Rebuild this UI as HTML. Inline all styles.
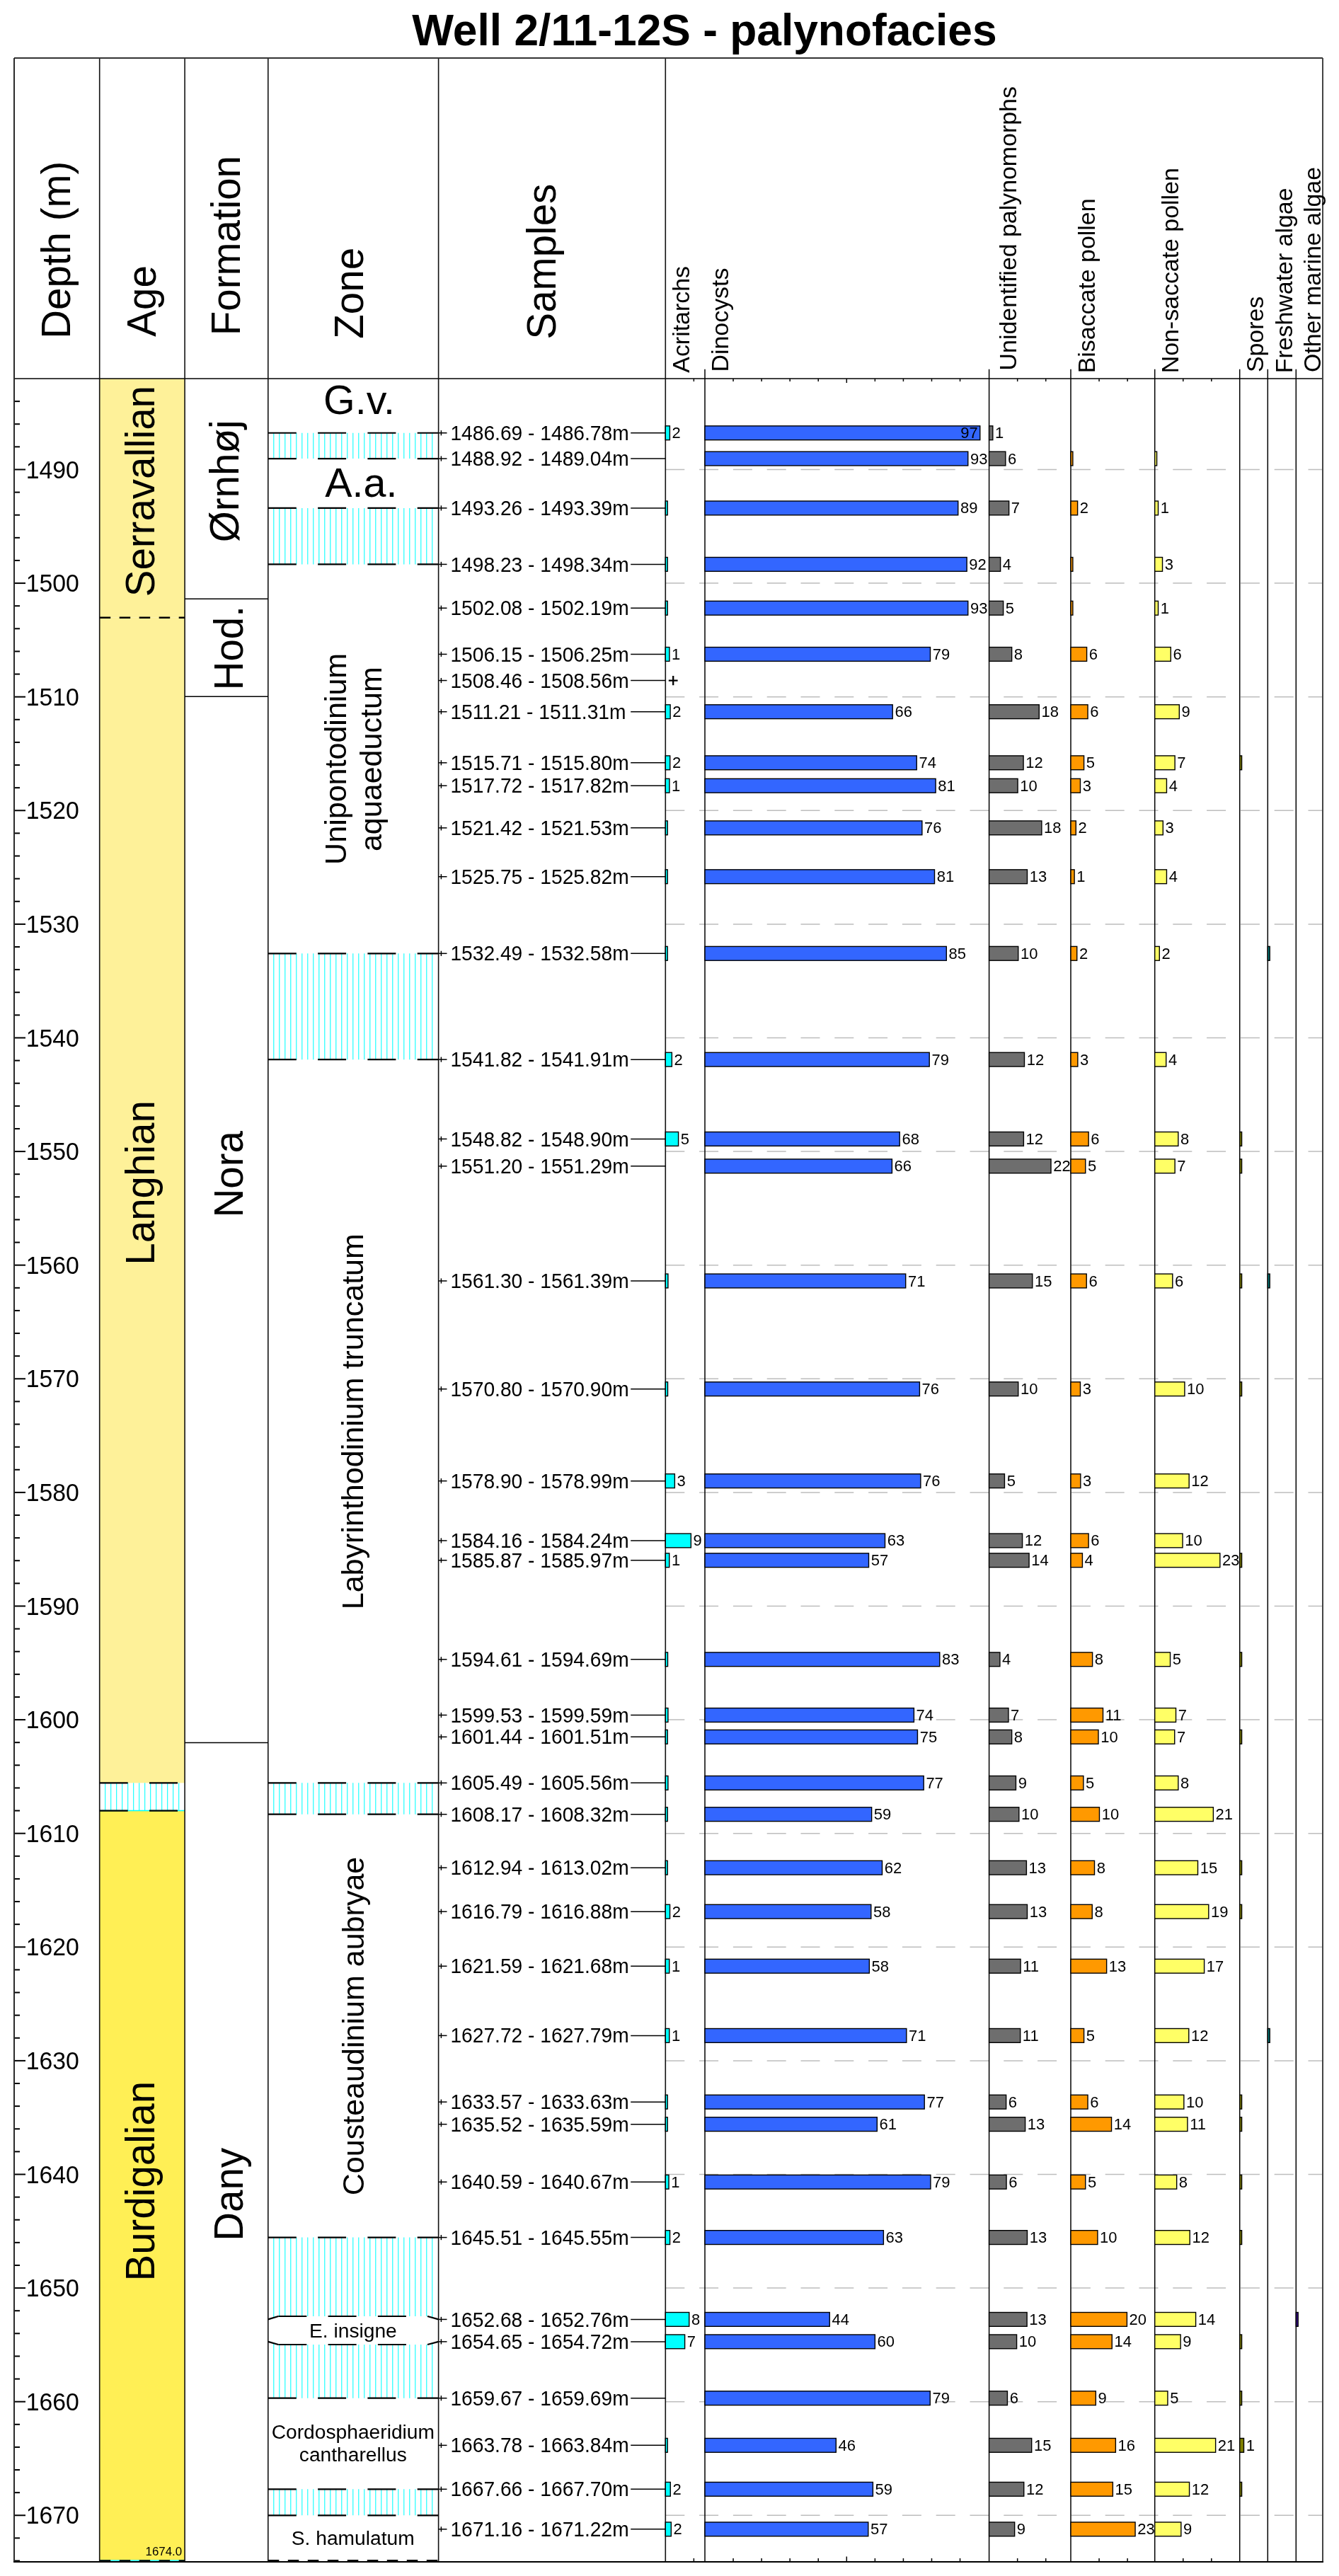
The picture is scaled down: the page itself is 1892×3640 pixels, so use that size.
<!DOCTYPE html>
<html><head><meta charset="utf-8"><title>Well 2/11-12S - palynofacies</title>
<style>html,body{margin:0;padding:0;background:#fff;}svg{display:block;will-change:transform;}text{font-family:"Liberation Sans",sans-serif;}</style>
</head><body>
<svg width="1892" height="3640" viewBox="0 0 1892 3640">
<rect x="0" y="0" width="1892" height="3640" fill="#fff"/>
<rect x="140.70" y="535.00" width="120.40" height="337.74" fill="#FEF199" stroke="none" stroke-width="0"/>
<rect x="140.70" y="872.74" width="120.40" height="1646.63" fill="#FEF199" stroke="none" stroke-width="0"/>
<rect x="140.70" y="2558.56" width="120.40" height="1061.44" fill="#FFEF55" stroke="none" stroke-width="0"/>
<path d="M148.70 2519.37V2558.56M156.70 2519.37V2558.56M164.70 2519.37V2558.56M172.70 2519.37V2558.56M180.70 2519.37V2558.56M188.70 2519.37V2558.56M196.70 2519.37V2558.56M204.70 2519.37V2558.56M212.70 2519.37V2558.56M220.70 2519.37V2558.56M228.70 2519.37V2558.56M236.70 2519.37V2558.56M244.70 2519.37V2558.56M252.70 2519.37V2558.56" stroke="#00FFFF" stroke-width="1.05" fill="none"/>
<line x1="140.70" y1="2558.56" x2="261.10" y2="2558.56" stroke="#00FFFF" stroke-width="1.6" />
<line x1="140.70" y1="2519.37" x2="261.10" y2="2519.37" stroke="#000" stroke-width="2.2" stroke-dasharray="40 30.3" stroke-dashoffset="0"/>
<line x1="140.70" y1="2558.56" x2="261.10" y2="2558.56" stroke="#000" stroke-width="2.2" stroke-dasharray="40 30.3" stroke-dashoffset="0"/>
<path d="M386.80 611.77V648.06M394.80 611.77V648.06M402.80 611.77V648.06M410.80 611.77V648.06M418.80 611.77V648.06M426.80 611.77V648.06M434.80 611.77V648.06M442.80 611.77V648.06M450.80 611.77V648.06M458.80 611.77V648.06M466.80 611.77V648.06M474.80 611.77V648.06M482.80 611.77V648.06M490.80 611.77V648.06M498.80 611.77V648.06M506.80 611.77V648.06M514.80 611.77V648.06M522.80 611.77V648.06M530.80 611.77V648.06M538.80 611.77V648.06M546.80 611.77V648.06M554.80 611.77V648.06M562.80 611.77V648.06M570.80 611.77V648.06M578.80 611.77V648.06M586.80 611.77V648.06M594.80 611.77V648.06M602.80 611.77V648.06M610.80 611.77V648.06" stroke="#00FFFF" stroke-width="1.05" fill="none"/>
<line x1="378.80" y1="611.77" x2="619.60" y2="611.77" stroke="#000" stroke-width="2.2" stroke-dasharray="40 30.3" stroke-dashoffset="0"/>
<line x1="378.80" y1="648.06" x2="619.60" y2="648.06" stroke="#000" stroke-width="2.2" stroke-dasharray="40 30.3" stroke-dashoffset="0"/>
<path d="M386.80 717.92V797.42M394.80 717.92V797.42M402.80 717.92V797.42M410.80 717.92V797.42M418.80 717.92V797.42M426.80 717.92V797.42M434.80 717.92V797.42M442.80 717.92V797.42M450.80 717.92V797.42M458.80 717.92V797.42M466.80 717.92V797.42M474.80 717.92V797.42M482.80 717.92V797.42M490.80 717.92V797.42M498.80 717.92V797.42M506.80 717.92V797.42M514.80 717.92V797.42M522.80 717.92V797.42M530.80 717.92V797.42M538.80 717.92V797.42M546.80 717.92V797.42M554.80 717.92V797.42M562.80 717.92V797.42M570.80 717.92V797.42M578.80 717.92V797.42M586.80 717.92V797.42M594.80 717.92V797.42M602.80 717.92V797.42M610.80 717.92V797.42" stroke="#00FFFF" stroke-width="1.05" fill="none"/>
<line x1="378.80" y1="717.92" x2="619.60" y2="717.92" stroke="#000" stroke-width="2.2" stroke-dasharray="40 30.3" stroke-dashoffset="0"/>
<line x1="378.80" y1="797.42" x2="619.60" y2="797.42" stroke="#000" stroke-width="2.2" stroke-dasharray="40 30.3" stroke-dashoffset="0"/>
<path d="M386.80 1347.31V1497.15M394.80 1347.31V1497.15M402.80 1347.31V1497.15M410.80 1347.31V1497.15M418.80 1347.31V1497.15M426.80 1347.31V1497.15M434.80 1347.31V1497.15M442.80 1347.31V1497.15M450.80 1347.31V1497.15M458.80 1347.31V1497.15M466.80 1347.31V1497.15M474.80 1347.31V1497.15M482.80 1347.31V1497.15M490.80 1347.31V1497.15M498.80 1347.31V1497.15M506.80 1347.31V1497.15M514.80 1347.31V1497.15M522.80 1347.31V1497.15M530.80 1347.31V1497.15M538.80 1347.31V1497.15M546.80 1347.31V1497.15M554.80 1347.31V1497.15M562.80 1347.31V1497.15M570.80 1347.31V1497.15M578.80 1347.31V1497.15M586.80 1347.31V1497.15M594.80 1347.31V1497.15M602.80 1347.31V1497.15M610.80 1347.31V1497.15" stroke="#00FFFF" stroke-width="1.05" fill="none"/>
<line x1="378.80" y1="1347.31" x2="619.60" y2="1347.31" stroke="#000" stroke-width="2.2" stroke-dasharray="40 30.3" stroke-dashoffset="0"/>
<line x1="378.80" y1="1497.15" x2="619.60" y2="1497.15" stroke="#000" stroke-width="2.2" stroke-dasharray="40 30.3" stroke-dashoffset="0"/>
<path d="M386.80 2519.37V2563.70M394.80 2519.37V2563.70M402.80 2519.37V2563.70M410.80 2519.37V2563.70M418.80 2519.37V2563.70M426.80 2519.37V2563.70M434.80 2519.37V2563.70M442.80 2519.37V2563.70M450.80 2519.37V2563.70M458.80 2519.37V2563.70M466.80 2519.37V2563.70M474.80 2519.37V2563.70M482.80 2519.37V2563.70M490.80 2519.37V2563.70M498.80 2519.37V2563.70M506.80 2519.37V2563.70M514.80 2519.37V2563.70M522.80 2519.37V2563.70M530.80 2519.37V2563.70M538.80 2519.37V2563.70M546.80 2519.37V2563.70M554.80 2519.37V2563.70M562.80 2519.37V2563.70M570.80 2519.37V2563.70M578.80 2519.37V2563.70M586.80 2519.37V2563.70M594.80 2519.37V2563.70M602.80 2519.37V2563.70M610.80 2519.37V2563.70" stroke="#00FFFF" stroke-width="1.05" fill="none"/>
<line x1="378.80" y1="2519.37" x2="619.60" y2="2519.37" stroke="#000" stroke-width="2.2" stroke-dasharray="40 30.3" stroke-dashoffset="0"/>
<line x1="378.80" y1="2563.70" x2="619.60" y2="2563.70" stroke="#000" stroke-width="2.2" stroke-dasharray="40 30.3" stroke-dashoffset="0"/>
<path d="M386.80 3161.61V3277.41M394.80 3161.61V3277.41M402.80 3161.61V3277.41M410.80 3161.61V3277.41M418.80 3161.61V3277.41M426.80 3161.61V3277.41M434.80 3161.61V3277.41M442.80 3161.61V3277.41M450.80 3161.61V3277.41M458.80 3161.61V3277.41M466.80 3161.61V3277.41M474.80 3161.61V3277.41M482.80 3161.61V3277.41M490.80 3161.61V3277.41M498.80 3161.61V3277.41M506.80 3161.61V3277.41M514.80 3161.61V3277.41M522.80 3161.61V3277.41M530.80 3161.61V3277.41M538.80 3161.61V3277.41M546.80 3161.61V3277.41M554.80 3161.61V3277.41M562.80 3161.61V3277.41M570.80 3161.61V3277.41M578.80 3161.61V3277.41M586.80 3161.61V3277.41M594.80 3161.61V3277.41M602.80 3161.61V3277.41M610.80 3161.61V3277.41" stroke="#00FFFF" stroke-width="1.05" fill="none"/>
<line x1="378.80" y1="3161.61" x2="619.60" y2="3161.61" stroke="#000" stroke-width="2.2" stroke-dasharray="40 30.3" stroke-dashoffset="0"/>
<line x1="378.80" y1="3277.41" x2="619.60" y2="3277.41" stroke="#000" stroke-width="2.2" stroke-dasharray="40 30.3" stroke-dashoffset="0"/>
<path d="M386.80 3308.88V3388.70M394.80 3308.88V3388.70M402.80 3308.88V3388.70M410.80 3308.88V3388.70M418.80 3308.88V3388.70M426.80 3308.88V3388.70M434.80 3308.88V3388.70M442.80 3308.88V3388.70M450.80 3308.88V3388.70M458.80 3308.88V3388.70M466.80 3308.88V3388.70M474.80 3308.88V3388.70M482.80 3308.88V3388.70M490.80 3308.88V3388.70M498.80 3308.88V3388.70M506.80 3308.88V3388.70M514.80 3308.88V3388.70M522.80 3308.88V3388.70M530.80 3308.88V3388.70M538.80 3308.88V3388.70M546.80 3308.88V3388.70M554.80 3308.88V3388.70M562.80 3308.88V3388.70M570.80 3308.88V3388.70M578.80 3308.88V3388.70M586.80 3308.88V3388.70M594.80 3308.88V3388.70M602.80 3308.88V3388.70M610.80 3308.88V3388.70" stroke="#00FFFF" stroke-width="1.05" fill="none"/>
<line x1="378.80" y1="3308.88" x2="619.60" y2="3308.88" stroke="#000" stroke-width="2.2" stroke-dasharray="40 30.3" stroke-dashoffset="0"/>
<line x1="378.80" y1="3388.70" x2="619.60" y2="3388.70" stroke="#000" stroke-width="2.2" stroke-dasharray="40 30.3" stroke-dashoffset="0"/>
<path d="M386.80 3517.34V3554.28M394.80 3517.34V3554.28M402.80 3517.34V3554.28M410.80 3517.34V3554.28M418.80 3517.34V3554.28M426.80 3517.34V3554.28M434.80 3517.34V3554.28M442.80 3517.34V3554.28M450.80 3517.34V3554.28M458.80 3517.34V3554.28M466.80 3517.34V3554.28M474.80 3517.34V3554.28M482.80 3517.34V3554.28M490.80 3517.34V3554.28M498.80 3517.34V3554.28M506.80 3517.34V3554.28M514.80 3517.34V3554.28M522.80 3517.34V3554.28M530.80 3517.34V3554.28M538.80 3517.34V3554.28M546.80 3517.34V3554.28M554.80 3517.34V3554.28M562.80 3517.34V3554.28M570.80 3517.34V3554.28M578.80 3517.34V3554.28M586.80 3517.34V3554.28M594.80 3517.34V3554.28M602.80 3517.34V3554.28M610.80 3517.34V3554.28" stroke="#00FFFF" stroke-width="1.05" fill="none"/>
<line x1="378.80" y1="3517.34" x2="619.60" y2="3517.34" stroke="#000" stroke-width="2.2" stroke-dasharray="40 30.3" stroke-dashoffset="0"/>
<line x1="378.80" y1="3554.28" x2="619.60" y2="3554.28" stroke="#000" stroke-width="2.2" stroke-dasharray="40 30.3" stroke-dashoffset="0"/>
<path d="M378.8 3277.41 L393.3 3273 L604 3273 L619.6 3277.41 L619.6 3308.88 L604 3313 L393.3 3313 L378.8 3308.88Z" fill="#fff" stroke="none"/>
<line x1="378.80" y1="3277.41" x2="393.30" y2="3273.00" stroke="#000" stroke-width="2.2" />
<line x1="604.00" y1="3273.00" x2="619.60" y2="3277.41" stroke="#000" stroke-width="2.2" />
<line x1="378.80" y1="3308.88" x2="393.30" y2="3313.00" stroke="#000" stroke-width="2.2" />
<line x1="604.00" y1="3313.00" x2="619.60" y2="3308.88" stroke="#000" stroke-width="2.2" />
<line x1="393.30" y1="3273.00" x2="604.00" y2="3273.00" stroke="#000" stroke-width="2.2" stroke-dasharray="40 30.3" stroke-dashoffset="0"/>
<line x1="393.30" y1="3313.00" x2="604.00" y2="3313.00" stroke="#000" stroke-width="2.2" stroke-dasharray="40 30.3" stroke-dashoffset="0"/>
<line x1="378.80" y1="3618.30" x2="619.60" y2="3618.30" stroke="#000" stroke-width="2.5" stroke-dasharray="15.5 12.5" stroke-dashoffset="0"/>
<line x1="140.70" y1="3618.50" x2="261.10" y2="3618.50" stroke="#33FFFF" stroke-width="2.5" />
<line x1="140.70" y1="3618.50" x2="261.10" y2="3618.50" stroke="#000" stroke-width="2.5" stroke-dasharray="15.5 12.5" stroke-dashoffset="0"/>
<line x1="140.70" y1="872.74" x2="261.10" y2="872.74" stroke="#000" stroke-width="2.5" stroke-dasharray="15.5 12.5" stroke-dashoffset="0"/>
<line x1="940.3" y1="663.48" x2="1869" y2="663.48" stroke="#BDBDBD" stroke-width="1.5" stroke-dasharray="27 20.8"/>
<line x1="940.3" y1="824.08" x2="1869" y2="824.08" stroke="#BDBDBD" stroke-width="1.5" stroke-dasharray="27 20.8"/>
<line x1="940.3" y1="984.68" x2="1869" y2="984.68" stroke="#BDBDBD" stroke-width="1.5" stroke-dasharray="27 20.8"/>
<line x1="940.3" y1="1145.28" x2="1869" y2="1145.28" stroke="#BDBDBD" stroke-width="1.5" stroke-dasharray="27 20.8"/>
<line x1="940.3" y1="1305.88" x2="1869" y2="1305.88" stroke="#BDBDBD" stroke-width="1.5" stroke-dasharray="27 20.8"/>
<line x1="940.3" y1="1466.48" x2="1869" y2="1466.48" stroke="#BDBDBD" stroke-width="1.5" stroke-dasharray="27 20.8"/>
<line x1="940.3" y1="1627.08" x2="1869" y2="1627.08" stroke="#BDBDBD" stroke-width="1.5" stroke-dasharray="27 20.8"/>
<line x1="940.3" y1="1787.68" x2="1869" y2="1787.68" stroke="#BDBDBD" stroke-width="1.5" stroke-dasharray="27 20.8"/>
<line x1="940.3" y1="1948.28" x2="1869" y2="1948.28" stroke="#BDBDBD" stroke-width="1.5" stroke-dasharray="27 20.8"/>
<line x1="940.3" y1="2108.88" x2="1869" y2="2108.88" stroke="#BDBDBD" stroke-width="1.5" stroke-dasharray="27 20.8"/>
<line x1="940.3" y1="2269.48" x2="1869" y2="2269.48" stroke="#BDBDBD" stroke-width="1.5" stroke-dasharray="27 20.8"/>
<line x1="940.3" y1="2430.08" x2="1869" y2="2430.08" stroke="#BDBDBD" stroke-width="1.5" stroke-dasharray="27 20.8"/>
<line x1="940.3" y1="2590.68" x2="1869" y2="2590.68" stroke="#BDBDBD" stroke-width="1.5" stroke-dasharray="27 20.8"/>
<line x1="940.3" y1="2751.28" x2="1869" y2="2751.28" stroke="#BDBDBD" stroke-width="1.5" stroke-dasharray="27 20.8"/>
<line x1="940.3" y1="2911.88" x2="1869" y2="2911.88" stroke="#BDBDBD" stroke-width="1.5" stroke-dasharray="27 20.8"/>
<line x1="940.3" y1="3072.48" x2="1869" y2="3072.48" stroke="#BDBDBD" stroke-width="1.5" stroke-dasharray="27 20.8"/>
<line x1="940.3" y1="3233.08" x2="1869" y2="3233.08" stroke="#BDBDBD" stroke-width="1.5" stroke-dasharray="27 20.8"/>
<line x1="940.3" y1="3393.68" x2="1869" y2="3393.68" stroke="#BDBDBD" stroke-width="1.5" stroke-dasharray="27 20.8"/>
<line x1="940.3" y1="3554.28" x2="1869" y2="3554.28" stroke="#BDBDBD" stroke-width="1.5" stroke-dasharray="27 20.8"/>
<line x1="20.00" y1="535.00" x2="1869.00" y2="535.00" stroke="#000" stroke-width="1.5" />
<line x1="140.70" y1="82.00" x2="140.70" y2="3620.00" stroke="#111" stroke-width="1.6" />
<line x1="261.10" y1="82.00" x2="261.10" y2="3620.00" stroke="#111" stroke-width="1.6" />
<line x1="378.80" y1="82.00" x2="378.80" y2="3620.00" stroke="#111" stroke-width="1.6" />
<line x1="619.60" y1="82.00" x2="619.60" y2="3620.00" stroke="#111" stroke-width="1.6" />
<line x1="940.30" y1="82.00" x2="940.30" y2="3620.00" stroke="#111" stroke-width="1.6" />
<line x1="996.00" y1="521.70" x2="996.00" y2="3620.00" stroke="#000" stroke-width="1.5" />
<line x1="1397.60" y1="521.70" x2="1397.60" y2="3620.00" stroke="#000" stroke-width="1.5" />
<line x1="1513.00" y1="521.70" x2="1513.00" y2="3620.00" stroke="#000" stroke-width="1.5" />
<line x1="1631.70" y1="521.70" x2="1631.70" y2="3620.00" stroke="#000" stroke-width="1.5" />
<line x1="1751.70" y1="521.70" x2="1751.70" y2="3620.00" stroke="#000" stroke-width="1.5" />
<line x1="1791.30" y1="521.70" x2="1791.30" y2="3620.00" stroke="#000" stroke-width="1.5" />
<line x1="1831.30" y1="521.70" x2="1831.30" y2="3620.00" stroke="#000" stroke-width="1.5" />
<line x1="261.10" y1="846.20" x2="378.80" y2="846.20" stroke="#000" stroke-width="1.5" />
<line x1="261.10" y1="984.30" x2="378.80" y2="984.30" stroke="#000" stroke-width="1.5" />
<line x1="261.10" y1="2462.40" x2="378.80" y2="2462.40" stroke="#000" stroke-width="1.5" />
<line x1="980.36" y1="535.00" x2="980.36" y2="539.00" stroke="#000" stroke-width="1.5" />
<line x1="1036.06" y1="535.00" x2="1036.06" y2="539.00" stroke="#000" stroke-width="1.5" />
<line x1="1076.12" y1="535.00" x2="1076.12" y2="539.00" stroke="#000" stroke-width="1.5" />
<line x1="1116.18" y1="535.00" x2="1116.18" y2="539.00" stroke="#000" stroke-width="1.5" />
<line x1="1156.24" y1="535.00" x2="1156.24" y2="539.00" stroke="#000" stroke-width="1.5" />
<line x1="1196.30" y1="535.00" x2="1196.30" y2="541.00" stroke="#000" stroke-width="1.5" />
<line x1="1236.36" y1="535.00" x2="1236.36" y2="539.00" stroke="#000" stroke-width="1.5" />
<line x1="1276.42" y1="535.00" x2="1276.42" y2="539.00" stroke="#000" stroke-width="1.5" />
<line x1="1316.48" y1="535.00" x2="1316.48" y2="539.00" stroke="#000" stroke-width="1.5" />
<line x1="1356.54" y1="535.00" x2="1356.54" y2="539.00" stroke="#000" stroke-width="1.5" />
<line x1="1437.66" y1="535.00" x2="1437.66" y2="539.00" stroke="#000" stroke-width="1.5" />
<line x1="1477.72" y1="535.00" x2="1477.72" y2="539.00" stroke="#000" stroke-width="1.5" />
<line x1="1553.06" y1="535.00" x2="1553.06" y2="539.00" stroke="#000" stroke-width="1.5" />
<line x1="1593.12" y1="535.00" x2="1593.12" y2="539.00" stroke="#000" stroke-width="1.5" />
<line x1="1671.76" y1="535.00" x2="1671.76" y2="539.00" stroke="#000" stroke-width="1.5" />
<line x1="1711.82" y1="535.00" x2="1711.82" y2="539.00" stroke="#000" stroke-width="1.5" />
<line x1="980.36" y1="3615.00" x2="980.36" y2="3620.00" stroke="#000" stroke-width="1.5" />
<line x1="1036.06" y1="3615.00" x2="1036.06" y2="3620.00" stroke="#000" stroke-width="1.5" />
<line x1="1076.12" y1="3615.00" x2="1076.12" y2="3620.00" stroke="#000" stroke-width="1.5" />
<line x1="1116.18" y1="3615.00" x2="1116.18" y2="3620.00" stroke="#000" stroke-width="1.5" />
<line x1="1156.24" y1="3615.00" x2="1156.24" y2="3620.00" stroke="#000" stroke-width="1.5" />
<line x1="1196.30" y1="3612.50" x2="1196.30" y2="3620.00" stroke="#000" stroke-width="1.5" />
<line x1="1236.36" y1="3615.00" x2="1236.36" y2="3620.00" stroke="#000" stroke-width="1.5" />
<line x1="1276.42" y1="3615.00" x2="1276.42" y2="3620.00" stroke="#000" stroke-width="1.5" />
<line x1="1316.48" y1="3615.00" x2="1316.48" y2="3620.00" stroke="#000" stroke-width="1.5" />
<line x1="1356.54" y1="3615.00" x2="1356.54" y2="3620.00" stroke="#000" stroke-width="1.5" />
<line x1="1437.66" y1="3615.00" x2="1437.66" y2="3620.00" stroke="#000" stroke-width="1.5" />
<line x1="1477.72" y1="3615.00" x2="1477.72" y2="3620.00" stroke="#000" stroke-width="1.5" />
<line x1="1553.06" y1="3615.00" x2="1553.06" y2="3620.00" stroke="#000" stroke-width="1.5" />
<line x1="1593.12" y1="3615.00" x2="1593.12" y2="3620.00" stroke="#000" stroke-width="1.5" />
<line x1="1671.76" y1="3615.00" x2="1671.76" y2="3620.00" stroke="#000" stroke-width="1.5" />
<line x1="1711.82" y1="3615.00" x2="1711.82" y2="3620.00" stroke="#000" stroke-width="1.5" />
<line x1="20.00" y1="567.12" x2="28.00" y2="567.12" stroke="#000" stroke-width="2" />
<line x1="20.00" y1="599.24" x2="28.00" y2="599.24" stroke="#000" stroke-width="2" />
<line x1="20.00" y1="631.36" x2="28.00" y2="631.36" stroke="#000" stroke-width="2" />
<line x1="20.00" y1="663.48" x2="36.00" y2="663.48" stroke="#000" stroke-width="2" />
<text transform="translate(36.70,675.58) scale(1,1.045)" font-size="33.8" fill="#000">1490</text>
<line x1="20.00" y1="695.60" x2="28.00" y2="695.60" stroke="#000" stroke-width="2" />
<line x1="20.00" y1="727.72" x2="28.00" y2="727.72" stroke="#000" stroke-width="2" />
<line x1="20.00" y1="759.84" x2="28.00" y2="759.84" stroke="#000" stroke-width="2" />
<line x1="20.00" y1="791.96" x2="28.00" y2="791.96" stroke="#000" stroke-width="2" />
<line x1="20.00" y1="824.08" x2="36.00" y2="824.08" stroke="#000" stroke-width="2" />
<text transform="translate(36.70,836.18) scale(1,1.045)" font-size="33.8" fill="#000">1500</text>
<line x1="20.00" y1="856.20" x2="28.00" y2="856.20" stroke="#000" stroke-width="2" />
<line x1="20.00" y1="888.32" x2="28.00" y2="888.32" stroke="#000" stroke-width="2" />
<line x1="20.00" y1="920.44" x2="28.00" y2="920.44" stroke="#000" stroke-width="2" />
<line x1="20.00" y1="952.56" x2="28.00" y2="952.56" stroke="#000" stroke-width="2" />
<line x1="20.00" y1="984.68" x2="36.00" y2="984.68" stroke="#000" stroke-width="2" />
<text transform="translate(36.70,996.78) scale(1,1.045)" font-size="33.8" fill="#000">1510</text>
<line x1="20.00" y1="1016.80" x2="28.00" y2="1016.80" stroke="#000" stroke-width="2" />
<line x1="20.00" y1="1048.92" x2="28.00" y2="1048.92" stroke="#000" stroke-width="2" />
<line x1="20.00" y1="1081.04" x2="28.00" y2="1081.04" stroke="#000" stroke-width="2" />
<line x1="20.00" y1="1113.16" x2="28.00" y2="1113.16" stroke="#000" stroke-width="2" />
<line x1="20.00" y1="1145.28" x2="36.00" y2="1145.28" stroke="#000" stroke-width="2" />
<text transform="translate(36.70,1157.38) scale(1,1.045)" font-size="33.8" fill="#000">1520</text>
<line x1="20.00" y1="1177.40" x2="28.00" y2="1177.40" stroke="#000" stroke-width="2" />
<line x1="20.00" y1="1209.52" x2="28.00" y2="1209.52" stroke="#000" stroke-width="2" />
<line x1="20.00" y1="1241.64" x2="28.00" y2="1241.64" stroke="#000" stroke-width="2" />
<line x1="20.00" y1="1273.76" x2="28.00" y2="1273.76" stroke="#000" stroke-width="2" />
<line x1="20.00" y1="1305.88" x2="36.00" y2="1305.88" stroke="#000" stroke-width="2" />
<text transform="translate(36.70,1317.98) scale(1,1.045)" font-size="33.8" fill="#000">1530</text>
<line x1="20.00" y1="1338.00" x2="28.00" y2="1338.00" stroke="#000" stroke-width="2" />
<line x1="20.00" y1="1370.12" x2="28.00" y2="1370.12" stroke="#000" stroke-width="2" />
<line x1="20.00" y1="1402.24" x2="28.00" y2="1402.24" stroke="#000" stroke-width="2" />
<line x1="20.00" y1="1434.36" x2="28.00" y2="1434.36" stroke="#000" stroke-width="2" />
<line x1="20.00" y1="1466.48" x2="36.00" y2="1466.48" stroke="#000" stroke-width="2" />
<text transform="translate(36.70,1478.58) scale(1,1.045)" font-size="33.8" fill="#000">1540</text>
<line x1="20.00" y1="1498.60" x2="28.00" y2="1498.60" stroke="#000" stroke-width="2" />
<line x1="20.00" y1="1530.72" x2="28.00" y2="1530.72" stroke="#000" stroke-width="2" />
<line x1="20.00" y1="1562.84" x2="28.00" y2="1562.84" stroke="#000" stroke-width="2" />
<line x1="20.00" y1="1594.96" x2="28.00" y2="1594.96" stroke="#000" stroke-width="2" />
<line x1="20.00" y1="1627.08" x2="36.00" y2="1627.08" stroke="#000" stroke-width="2" />
<text transform="translate(36.70,1639.18) scale(1,1.045)" font-size="33.8" fill="#000">1550</text>
<line x1="20.00" y1="1659.20" x2="28.00" y2="1659.20" stroke="#000" stroke-width="2" />
<line x1="20.00" y1="1691.32" x2="28.00" y2="1691.32" stroke="#000" stroke-width="2" />
<line x1="20.00" y1="1723.44" x2="28.00" y2="1723.44" stroke="#000" stroke-width="2" />
<line x1="20.00" y1="1755.56" x2="28.00" y2="1755.56" stroke="#000" stroke-width="2" />
<line x1="20.00" y1="1787.68" x2="36.00" y2="1787.68" stroke="#000" stroke-width="2" />
<text transform="translate(36.70,1799.78) scale(1,1.045)" font-size="33.8" fill="#000">1560</text>
<line x1="20.00" y1="1819.80" x2="28.00" y2="1819.80" stroke="#000" stroke-width="2" />
<line x1="20.00" y1="1851.92" x2="28.00" y2="1851.92" stroke="#000" stroke-width="2" />
<line x1="20.00" y1="1884.04" x2="28.00" y2="1884.04" stroke="#000" stroke-width="2" />
<line x1="20.00" y1="1916.16" x2="28.00" y2="1916.16" stroke="#000" stroke-width="2" />
<line x1="20.00" y1="1948.28" x2="36.00" y2="1948.28" stroke="#000" stroke-width="2" />
<text transform="translate(36.70,1960.38) scale(1,1.045)" font-size="33.8" fill="#000">1570</text>
<line x1="20.00" y1="1980.40" x2="28.00" y2="1980.40" stroke="#000" stroke-width="2" />
<line x1="20.00" y1="2012.52" x2="28.00" y2="2012.52" stroke="#000" stroke-width="2" />
<line x1="20.00" y1="2044.64" x2="28.00" y2="2044.64" stroke="#000" stroke-width="2" />
<line x1="20.00" y1="2076.76" x2="28.00" y2="2076.76" stroke="#000" stroke-width="2" />
<line x1="20.00" y1="2108.88" x2="36.00" y2="2108.88" stroke="#000" stroke-width="2" />
<text transform="translate(36.70,2120.98) scale(1,1.045)" font-size="33.8" fill="#000">1580</text>
<line x1="20.00" y1="2141.00" x2="28.00" y2="2141.00" stroke="#000" stroke-width="2" />
<line x1="20.00" y1="2173.12" x2="28.00" y2="2173.12" stroke="#000" stroke-width="2" />
<line x1="20.00" y1="2205.24" x2="28.00" y2="2205.24" stroke="#000" stroke-width="2" />
<line x1="20.00" y1="2237.36" x2="28.00" y2="2237.36" stroke="#000" stroke-width="2" />
<line x1="20.00" y1="2269.48" x2="36.00" y2="2269.48" stroke="#000" stroke-width="2" />
<text transform="translate(36.70,2281.58) scale(1,1.045)" font-size="33.8" fill="#000">1590</text>
<line x1="20.00" y1="2301.60" x2="28.00" y2="2301.60" stroke="#000" stroke-width="2" />
<line x1="20.00" y1="2333.72" x2="28.00" y2="2333.72" stroke="#000" stroke-width="2" />
<line x1="20.00" y1="2365.84" x2="28.00" y2="2365.84" stroke="#000" stroke-width="2" />
<line x1="20.00" y1="2397.96" x2="28.00" y2="2397.96" stroke="#000" stroke-width="2" />
<line x1="20.00" y1="2430.08" x2="36.00" y2="2430.08" stroke="#000" stroke-width="2" />
<text transform="translate(36.70,2442.18) scale(1,1.045)" font-size="33.8" fill="#000">1600</text>
<line x1="20.00" y1="2462.20" x2="28.00" y2="2462.20" stroke="#000" stroke-width="2" />
<line x1="20.00" y1="2494.32" x2="28.00" y2="2494.32" stroke="#000" stroke-width="2" />
<line x1="20.00" y1="2526.44" x2="28.00" y2="2526.44" stroke="#000" stroke-width="2" />
<line x1="20.00" y1="2558.56" x2="28.00" y2="2558.56" stroke="#000" stroke-width="2" />
<line x1="20.00" y1="2590.68" x2="36.00" y2="2590.68" stroke="#000" stroke-width="2" />
<text transform="translate(36.70,2602.78) scale(1,1.045)" font-size="33.8" fill="#000">1610</text>
<line x1="20.00" y1="2622.80" x2="28.00" y2="2622.80" stroke="#000" stroke-width="2" />
<line x1="20.00" y1="2654.92" x2="28.00" y2="2654.92" stroke="#000" stroke-width="2" />
<line x1="20.00" y1="2687.04" x2="28.00" y2="2687.04" stroke="#000" stroke-width="2" />
<line x1="20.00" y1="2719.16" x2="28.00" y2="2719.16" stroke="#000" stroke-width="2" />
<line x1="20.00" y1="2751.28" x2="36.00" y2="2751.28" stroke="#000" stroke-width="2" />
<text transform="translate(36.70,2763.38) scale(1,1.045)" font-size="33.8" fill="#000">1620</text>
<line x1="20.00" y1="2783.40" x2="28.00" y2="2783.40" stroke="#000" stroke-width="2" />
<line x1="20.00" y1="2815.52" x2="28.00" y2="2815.52" stroke="#000" stroke-width="2" />
<line x1="20.00" y1="2847.64" x2="28.00" y2="2847.64" stroke="#000" stroke-width="2" />
<line x1="20.00" y1="2879.76" x2="28.00" y2="2879.76" stroke="#000" stroke-width="2" />
<line x1="20.00" y1="2911.88" x2="36.00" y2="2911.88" stroke="#000" stroke-width="2" />
<text transform="translate(36.70,2923.98) scale(1,1.045)" font-size="33.8" fill="#000">1630</text>
<line x1="20.00" y1="2944.00" x2="28.00" y2="2944.00" stroke="#000" stroke-width="2" />
<line x1="20.00" y1="2976.12" x2="28.00" y2="2976.12" stroke="#000" stroke-width="2" />
<line x1="20.00" y1="3008.24" x2="28.00" y2="3008.24" stroke="#000" stroke-width="2" />
<line x1="20.00" y1="3040.36" x2="28.00" y2="3040.36" stroke="#000" stroke-width="2" />
<line x1="20.00" y1="3072.48" x2="36.00" y2="3072.48" stroke="#000" stroke-width="2" />
<text transform="translate(36.70,3084.58) scale(1,1.045)" font-size="33.8" fill="#000">1640</text>
<line x1="20.00" y1="3104.60" x2="28.00" y2="3104.60" stroke="#000" stroke-width="2" />
<line x1="20.00" y1="3136.72" x2="28.00" y2="3136.72" stroke="#000" stroke-width="2" />
<line x1="20.00" y1="3168.84" x2="28.00" y2="3168.84" stroke="#000" stroke-width="2" />
<line x1="20.00" y1="3200.96" x2="28.00" y2="3200.96" stroke="#000" stroke-width="2" />
<line x1="20.00" y1="3233.08" x2="36.00" y2="3233.08" stroke="#000" stroke-width="2" />
<text transform="translate(36.70,3245.18) scale(1,1.045)" font-size="33.8" fill="#000">1650</text>
<line x1="20.00" y1="3265.20" x2="28.00" y2="3265.20" stroke="#000" stroke-width="2" />
<line x1="20.00" y1="3297.32" x2="28.00" y2="3297.32" stroke="#000" stroke-width="2" />
<line x1="20.00" y1="3329.44" x2="28.00" y2="3329.44" stroke="#000" stroke-width="2" />
<line x1="20.00" y1="3361.56" x2="28.00" y2="3361.56" stroke="#000" stroke-width="2" />
<line x1="20.00" y1="3393.68" x2="36.00" y2="3393.68" stroke="#000" stroke-width="2" />
<text transform="translate(36.70,3405.78) scale(1,1.045)" font-size="33.8" fill="#000">1660</text>
<line x1="20.00" y1="3425.80" x2="28.00" y2="3425.80" stroke="#000" stroke-width="2" />
<line x1="20.00" y1="3457.92" x2="28.00" y2="3457.92" stroke="#000" stroke-width="2" />
<line x1="20.00" y1="3490.04" x2="28.00" y2="3490.04" stroke="#000" stroke-width="2" />
<line x1="20.00" y1="3522.16" x2="28.00" y2="3522.16" stroke="#000" stroke-width="2" />
<line x1="20.00" y1="3554.28" x2="36.00" y2="3554.28" stroke="#000" stroke-width="2" />
<text transform="translate(36.70,3566.38) scale(1,1.045)" font-size="33.8" fill="#000">1670</text>
<line x1="20.00" y1="3586.40" x2="28.00" y2="3586.40" stroke="#000" stroke-width="2" />
<line x1="20.00" y1="3618.52" x2="28.00" y2="3618.52" stroke="#000" stroke-width="2" />
<line x1="619.60" y1="611.77" x2="631.50" y2="611.77" stroke="#000" stroke-width="1.5" />
<line x1="623.40" y1="608.17" x2="623.40" y2="615.37" stroke="#000" stroke-width="1.5" />
<text transform="translate(636.40,621.87) scale(1,1.045)" font-size="28.2" fill="#000">1486.69 - 1486.78m</text>
<line x1="891.20" y1="611.77" x2="940.30" y2="611.77" stroke="#000" stroke-width="1.5" />
<rect x="940.30" y="601.87" width="6.09" height="19.80" fill="#00FFFF" stroke="#000" stroke-width="1.4"/>
<text transform="translate(949.59,619.27) scale(1,1.045)" font-size="22">2</text>
<rect x="996.00" y="601.87" width="388.78" height="19.80" fill="#3366FF" stroke="#000" stroke-width="1.4"/>
<text x="1357.18" y="619.27" font-size="22" fill="#000">97</text>
<rect x="1397.60" y="601.87" width="5.21" height="19.80" fill="#6E6E6E" stroke="#000" stroke-width="1.4"/>
<text transform="translate(1406.01,619.27) scale(1,1.045)" font-size="22">1</text>
<line x1="619.60" y1="648.06" x2="631.50" y2="648.06" stroke="#000" stroke-width="1.5" />
<line x1="623.40" y1="644.46" x2="623.40" y2="651.66" stroke="#000" stroke-width="1.5" />
<text transform="translate(636.40,658.16) scale(1,1.045)" font-size="28.2" fill="#000">1488.92 - 1489.04m</text>
<line x1="891.20" y1="648.06" x2="940.30" y2="648.06" stroke="#000" stroke-width="1.5" />
<rect x="996.00" y="638.16" width="371.76" height="19.80" fill="#3366FF" stroke="#000" stroke-width="1.4"/>
<text transform="translate(1370.96,655.56) scale(1,1.045)" font-size="22">93</text>
<rect x="1397.60" y="638.16" width="23.23" height="19.80" fill="#6E6E6E" stroke="#000" stroke-width="1.4"/>
<text transform="translate(1424.03,655.56) scale(1,1.045)" font-size="22">6</text>
<rect x="1513.00" y="638.16" width="2.88" height="19.80" fill="#FF9900" stroke="#000" stroke-width="1.4"/>
<rect x="1631.70" y="638.16" width="2.88" height="19.80" fill="#FFFF66" stroke="#000" stroke-width="1.4"/>
<line x1="619.60" y1="717.92" x2="631.50" y2="717.92" stroke="#000" stroke-width="1.5" />
<line x1="623.40" y1="714.32" x2="623.40" y2="721.52" stroke="#000" stroke-width="1.5" />
<text transform="translate(636.40,728.02) scale(1,1.045)" font-size="28.2" fill="#000">1493.26 - 1493.39m</text>
<line x1="891.20" y1="717.92" x2="940.30" y2="717.92" stroke="#000" stroke-width="1.5" />
<rect x="940.30" y="708.02" width="2.88" height="19.80" fill="#00FFFF" stroke="#000" stroke-width="1.4"/>
<rect x="996.00" y="708.02" width="357.74" height="19.80" fill="#3366FF" stroke="#000" stroke-width="1.4"/>
<text transform="translate(1356.94,725.42) scale(1,1.045)" font-size="22">89</text>
<rect x="1397.60" y="708.02" width="28.04" height="19.80" fill="#6E6E6E" stroke="#000" stroke-width="1.4"/>
<text transform="translate(1428.84,725.42) scale(1,1.045)" font-size="22">7</text>
<rect x="1513.00" y="708.02" width="9.61" height="19.80" fill="#FF9900" stroke="#000" stroke-width="1.4"/>
<text transform="translate(1525.81,725.42) scale(1,1.045)" font-size="22">2</text>
<rect x="1631.70" y="708.02" width="4.81" height="19.80" fill="#FFFF66" stroke="#000" stroke-width="1.4"/>
<text transform="translate(1639.71,725.42) scale(1,1.045)" font-size="22">1</text>
<line x1="619.60" y1="797.42" x2="631.50" y2="797.42" stroke="#000" stroke-width="1.5" />
<line x1="623.40" y1="793.82" x2="623.40" y2="801.02" stroke="#000" stroke-width="1.5" />
<text transform="translate(636.40,807.52) scale(1,1.045)" font-size="28.2" fill="#000">1498.23 - 1498.34m</text>
<line x1="891.20" y1="797.42" x2="940.30" y2="797.42" stroke="#000" stroke-width="1.5" />
<rect x="940.30" y="787.52" width="2.88" height="19.80" fill="#00FFFF" stroke="#000" stroke-width="1.4"/>
<rect x="996.00" y="787.52" width="370.15" height="19.80" fill="#3366FF" stroke="#000" stroke-width="1.4"/>
<text transform="translate(1369.35,804.92) scale(1,1.045)" font-size="22">92</text>
<rect x="1397.60" y="787.52" width="16.02" height="19.80" fill="#6E6E6E" stroke="#000" stroke-width="1.4"/>
<text transform="translate(1416.82,804.92) scale(1,1.045)" font-size="22">4</text>
<rect x="1513.00" y="787.52" width="2.88" height="19.80" fill="#FF9900" stroke="#000" stroke-width="1.4"/>
<rect x="1631.70" y="787.52" width="10.82" height="19.80" fill="#FFFF66" stroke="#000" stroke-width="1.4"/>
<text transform="translate(1645.72,804.92) scale(1,1.045)" font-size="22">3</text>
<line x1="619.60" y1="859.25" x2="631.50" y2="859.25" stroke="#000" stroke-width="1.5" />
<line x1="623.40" y1="855.65" x2="623.40" y2="862.85" stroke="#000" stroke-width="1.5" />
<text transform="translate(636.40,869.35) scale(1,1.045)" font-size="28.2" fill="#000">1502.08 - 1502.19m</text>
<line x1="891.20" y1="859.25" x2="940.30" y2="859.25" stroke="#000" stroke-width="1.5" />
<rect x="940.30" y="849.35" width="2.88" height="19.80" fill="#00FFFF" stroke="#000" stroke-width="1.4"/>
<rect x="996.00" y="849.35" width="371.76" height="19.80" fill="#3366FF" stroke="#000" stroke-width="1.4"/>
<text transform="translate(1370.96,866.75) scale(1,1.045)" font-size="22">93</text>
<rect x="1397.60" y="849.35" width="20.03" height="19.80" fill="#6E6E6E" stroke="#000" stroke-width="1.4"/>
<text transform="translate(1420.83,866.75) scale(1,1.045)" font-size="22">5</text>
<rect x="1513.00" y="849.35" width="2.88" height="19.80" fill="#FF9900" stroke="#000" stroke-width="1.4"/>
<rect x="1631.70" y="849.35" width="4.81" height="19.80" fill="#FFFF66" stroke="#000" stroke-width="1.4"/>
<text transform="translate(1639.71,866.75) scale(1,1.045)" font-size="22">1</text>
<line x1="619.60" y1="924.45" x2="631.50" y2="924.45" stroke="#000" stroke-width="1.5" />
<line x1="623.40" y1="920.85" x2="623.40" y2="928.05" stroke="#000" stroke-width="1.5" />
<text transform="translate(636.40,934.55) scale(1,1.045)" font-size="28.2" fill="#000">1506.15 - 1506.25m</text>
<line x1="891.20" y1="924.45" x2="940.30" y2="924.45" stroke="#000" stroke-width="1.5" />
<rect x="940.30" y="914.55" width="5.61" height="19.80" fill="#00FFFF" stroke="#000" stroke-width="1.4"/>
<text transform="translate(949.11,931.95) scale(1,1.045)" font-size="22">1</text>
<rect x="996.00" y="914.55" width="318.48" height="19.80" fill="#3366FF" stroke="#000" stroke-width="1.4"/>
<text transform="translate(1317.68,931.95) scale(1,1.045)" font-size="22">79</text>
<rect x="1397.60" y="914.55" width="32.05" height="19.80" fill="#6E6E6E" stroke="#000" stroke-width="1.4"/>
<text transform="translate(1432.85,931.95) scale(1,1.045)" font-size="22">8</text>
<rect x="1513.00" y="914.55" width="22.59" height="19.80" fill="#FF9900" stroke="#000" stroke-width="1.4"/>
<text transform="translate(1538.79,931.95) scale(1,1.045)" font-size="22">6</text>
<rect x="1631.70" y="914.55" width="22.59" height="19.80" fill="#FFFF66" stroke="#000" stroke-width="1.4"/>
<text transform="translate(1657.49,931.95) scale(1,1.045)" font-size="22">6</text>
<line x1="619.60" y1="961.55" x2="631.50" y2="961.55" stroke="#000" stroke-width="1.5" />
<line x1="623.40" y1="957.95" x2="623.40" y2="965.15" stroke="#000" stroke-width="1.5" />
<text transform="translate(636.40,971.65) scale(1,1.045)" font-size="28.2" fill="#000">1508.46 - 1508.56m</text>
<line x1="891.20" y1="961.55" x2="940.30" y2="961.55" stroke="#000" stroke-width="1.5" />
<path d="M944.8 961.55H957.6M951.2 954.95V968.15" stroke="#000" stroke-width="2.3" fill="none"/>
<line x1="619.60" y1="1005.72" x2="631.50" y2="1005.72" stroke="#000" stroke-width="1.5" />
<line x1="623.40" y1="1002.12" x2="623.40" y2="1009.32" stroke="#000" stroke-width="1.5" />
<text transform="translate(636.40,1015.82) scale(1,1.045)" font-size="28.2" fill="#000">1511.21 - 1511.31m</text>
<line x1="891.20" y1="1005.72" x2="940.30" y2="1005.72" stroke="#000" stroke-width="1.5" />
<rect x="940.30" y="995.82" width="6.81" height="19.80" fill="#00FFFF" stroke="#000" stroke-width="1.4"/>
<text transform="translate(950.31,1013.22) scale(1,1.045)" font-size="22">2</text>
<rect x="996.00" y="995.82" width="265.20" height="19.80" fill="#3366FF" stroke="#000" stroke-width="1.4"/>
<text transform="translate(1264.40,1013.22) scale(1,1.045)" font-size="22">66</text>
<rect x="1397.60" y="995.82" width="70.67" height="19.80" fill="#6E6E6E" stroke="#000" stroke-width="1.4"/>
<text transform="translate(1471.47,1013.22) scale(1,1.045)" font-size="22">18</text>
<rect x="1513.00" y="995.82" width="24.04" height="19.80" fill="#FF9900" stroke="#000" stroke-width="1.4"/>
<text transform="translate(1540.24,1013.22) scale(1,1.045)" font-size="22">6</text>
<rect x="1631.70" y="995.82" width="34.61" height="19.80" fill="#FFFF66" stroke="#000" stroke-width="1.4"/>
<text transform="translate(1669.51,1013.22) scale(1,1.045)" font-size="22">9</text>
<line x1="619.60" y1="1077.83" x2="631.50" y2="1077.83" stroke="#000" stroke-width="1.5" />
<line x1="623.40" y1="1074.23" x2="623.40" y2="1081.43" stroke="#000" stroke-width="1.5" />
<text transform="translate(636.40,1087.93) scale(1,1.045)" font-size="28.2" fill="#000">1515.71 - 1515.80m</text>
<line x1="891.20" y1="1077.83" x2="940.30" y2="1077.83" stroke="#000" stroke-width="1.5" />
<rect x="940.30" y="1067.93" width="6.41" height="19.80" fill="#00FFFF" stroke="#000" stroke-width="1.4"/>
<text transform="translate(949.91,1085.33) scale(1,1.045)" font-size="22">2</text>
<rect x="996.00" y="1067.93" width="299.25" height="19.80" fill="#3366FF" stroke="#000" stroke-width="1.4"/>
<text transform="translate(1298.45,1085.33) scale(1,1.045)" font-size="22">74</text>
<rect x="1397.60" y="1067.93" width="48.47" height="19.80" fill="#6E6E6E" stroke="#000" stroke-width="1.4"/>
<text transform="translate(1449.27,1085.33) scale(1,1.045)" font-size="22">12</text>
<rect x="1513.00" y="1067.93" width="18.59" height="19.80" fill="#FF9900" stroke="#000" stroke-width="1.4"/>
<text transform="translate(1534.79,1085.33) scale(1,1.045)" font-size="22">5</text>
<rect x="1631.70" y="1067.93" width="28.44" height="19.80" fill="#FFFF66" stroke="#000" stroke-width="1.4"/>
<text transform="translate(1663.34,1085.33) scale(1,1.045)" font-size="22">7</text>
<rect x="1751.70" y="1067.93" width="2.88" height="19.80" fill="#808000" stroke="#000" stroke-width="1.4"/>
<line x1="619.60" y1="1110.27" x2="631.50" y2="1110.27" stroke="#000" stroke-width="1.5" />
<line x1="623.40" y1="1106.67" x2="623.40" y2="1113.87" stroke="#000" stroke-width="1.5" />
<text transform="translate(636.40,1120.37) scale(1,1.045)" font-size="28.2" fill="#000">1517.72 - 1517.82m</text>
<line x1="891.20" y1="1110.27" x2="940.30" y2="1110.27" stroke="#000" stroke-width="1.5" />
<rect x="940.30" y="1100.37" width="5.61" height="19.80" fill="#00FFFF" stroke="#000" stroke-width="1.4"/>
<text transform="translate(949.11,1117.77) scale(1,1.045)" font-size="22">1</text>
<rect x="996.00" y="1100.37" width="326.09" height="19.80" fill="#3366FF" stroke="#000" stroke-width="1.4"/>
<text transform="translate(1325.29,1117.77) scale(1,1.045)" font-size="22">81</text>
<rect x="1397.60" y="1100.37" width="40.46" height="19.80" fill="#6E6E6E" stroke="#000" stroke-width="1.4"/>
<text transform="translate(1441.26,1117.77) scale(1,1.045)" font-size="22">10</text>
<rect x="1513.00" y="1100.37" width="13.46" height="19.80" fill="#FF9900" stroke="#000" stroke-width="1.4"/>
<text transform="translate(1529.66,1117.77) scale(1,1.045)" font-size="22">3</text>
<rect x="1631.70" y="1100.37" width="16.75" height="19.80" fill="#FFFF66" stroke="#000" stroke-width="1.4"/>
<text transform="translate(1651.65,1117.77) scale(1,1.045)" font-size="22">4</text>
<line x1="619.60" y1="1169.85" x2="631.50" y2="1169.85" stroke="#000" stroke-width="1.5" />
<line x1="623.40" y1="1166.25" x2="623.40" y2="1173.45" stroke="#000" stroke-width="1.5" />
<text transform="translate(636.40,1179.95) scale(1,1.045)" font-size="28.2" fill="#000">1521.42 - 1521.53m</text>
<line x1="891.20" y1="1169.85" x2="940.30" y2="1169.85" stroke="#000" stroke-width="1.5" />
<rect x="940.30" y="1159.95" width="2.88" height="19.80" fill="#00FFFF" stroke="#000" stroke-width="1.4"/>
<rect x="996.00" y="1159.95" width="306.86" height="19.80" fill="#3366FF" stroke="#000" stroke-width="1.4"/>
<text transform="translate(1306.06,1177.35) scale(1,1.045)" font-size="22">76</text>
<rect x="1397.60" y="1159.95" width="74.27" height="19.80" fill="#6E6E6E" stroke="#000" stroke-width="1.4"/>
<text transform="translate(1475.07,1177.35) scale(1,1.045)" font-size="22">18</text>
<rect x="1513.00" y="1159.95" width="7.29" height="19.80" fill="#FF9900" stroke="#000" stroke-width="1.4"/>
<text transform="translate(1523.49,1177.35) scale(1,1.045)" font-size="22">2</text>
<rect x="1631.70" y="1159.95" width="11.62" height="19.80" fill="#FFFF66" stroke="#000" stroke-width="1.4"/>
<text transform="translate(1646.52,1177.35) scale(1,1.045)" font-size="22">3</text>
<line x1="619.60" y1="1238.75" x2="631.50" y2="1238.75" stroke="#000" stroke-width="1.5" />
<line x1="623.40" y1="1235.15" x2="623.40" y2="1242.35" stroke="#000" stroke-width="1.5" />
<text transform="translate(636.40,1248.85) scale(1,1.045)" font-size="28.2" fill="#000">1525.75 - 1525.82m</text>
<line x1="891.20" y1="1238.75" x2="940.30" y2="1238.75" stroke="#000" stroke-width="1.5" />
<rect x="940.30" y="1228.85" width="2.88" height="19.80" fill="#00FFFF" stroke="#000" stroke-width="1.4"/>
<rect x="996.00" y="1228.85" width="324.49" height="19.80" fill="#3366FF" stroke="#000" stroke-width="1.4"/>
<text transform="translate(1323.69,1246.25) scale(1,1.045)" font-size="22">81</text>
<rect x="1397.60" y="1228.85" width="53.88" height="19.80" fill="#6E6E6E" stroke="#000" stroke-width="1.4"/>
<text transform="translate(1454.68,1246.25) scale(1,1.045)" font-size="22">13</text>
<rect x="1513.00" y="1228.85" width="5.09" height="19.80" fill="#FF9900" stroke="#000" stroke-width="1.4"/>
<text transform="translate(1521.29,1246.25) scale(1,1.045)" font-size="22">1</text>
<rect x="1631.70" y="1228.85" width="16.75" height="19.80" fill="#FFFF66" stroke="#000" stroke-width="1.4"/>
<text transform="translate(1651.65,1246.25) scale(1,1.045)" font-size="22">4</text>
<line x1="619.60" y1="1347.31" x2="631.50" y2="1347.31" stroke="#000" stroke-width="1.5" />
<line x1="623.40" y1="1343.71" x2="623.40" y2="1350.91" stroke="#000" stroke-width="1.5" />
<text transform="translate(636.40,1357.41) scale(1,1.045)" font-size="28.2" fill="#000">1532.49 - 1532.58m</text>
<line x1="891.20" y1="1347.31" x2="940.30" y2="1347.31" stroke="#000" stroke-width="1.5" />
<rect x="940.30" y="1337.41" width="2.88" height="19.80" fill="#00FFFF" stroke="#000" stroke-width="1.4"/>
<rect x="996.00" y="1337.41" width="341.31" height="19.80" fill="#3366FF" stroke="#000" stroke-width="1.4"/>
<text transform="translate(1340.51,1354.81) scale(1,1.045)" font-size="22">85</text>
<rect x="1397.60" y="1337.41" width="41.14" height="19.80" fill="#6E6E6E" stroke="#000" stroke-width="1.4"/>
<text transform="translate(1441.94,1354.81) scale(1,1.045)" font-size="22">10</text>
<rect x="1513.00" y="1337.41" width="8.73" height="19.80" fill="#FF9900" stroke="#000" stroke-width="1.4"/>
<text transform="translate(1524.93,1354.81) scale(1,1.045)" font-size="22">2</text>
<rect x="1631.70" y="1337.41" width="6.57" height="19.80" fill="#FFFF66" stroke="#000" stroke-width="1.4"/>
<text transform="translate(1641.47,1354.81) scale(1,1.045)" font-size="22">2</text>
<rect x="1791.30" y="1337.41" width="2.88" height="19.80" fill="#008080" stroke="#000" stroke-width="1.4"/>
<line x1="619.60" y1="1497.15" x2="631.50" y2="1497.15" stroke="#000" stroke-width="1.5" />
<line x1="623.40" y1="1493.55" x2="623.40" y2="1500.75" stroke="#000" stroke-width="1.5" />
<text transform="translate(636.40,1507.25) scale(1,1.045)" font-size="28.2" fill="#000">1541.82 - 1541.91m</text>
<line x1="891.20" y1="1497.15" x2="940.30" y2="1497.15" stroke="#000" stroke-width="1.5" />
<rect x="940.30" y="1487.25" width="9.05" height="19.80" fill="#00FFFF" stroke="#000" stroke-width="1.4"/>
<text transform="translate(952.55,1504.65) scale(1,1.045)" font-size="22">2</text>
<rect x="996.00" y="1487.25" width="317.20" height="19.80" fill="#3366FF" stroke="#000" stroke-width="1.4"/>
<text transform="translate(1316.40,1504.65) scale(1,1.045)" font-size="22">79</text>
<rect x="1397.60" y="1487.25" width="49.87" height="19.80" fill="#6E6E6E" stroke="#000" stroke-width="1.4"/>
<text transform="translate(1450.67,1504.65) scale(1,1.045)" font-size="22">12</text>
<rect x="1513.00" y="1487.25" width="9.85" height="19.80" fill="#FF9900" stroke="#000" stroke-width="1.4"/>
<text transform="translate(1526.05,1504.65) scale(1,1.045)" font-size="22">3</text>
<rect x="1631.70" y="1487.25" width="16.02" height="19.80" fill="#FFFF66" stroke="#000" stroke-width="1.4"/>
<text transform="translate(1650.92,1504.65) scale(1,1.045)" font-size="22">4</text>
<line x1="619.60" y1="1609.41" x2="631.50" y2="1609.41" stroke="#000" stroke-width="1.5" />
<line x1="623.40" y1="1605.81" x2="623.40" y2="1613.01" stroke="#000" stroke-width="1.5" />
<text transform="translate(636.40,1619.51) scale(1,1.045)" font-size="28.2" fill="#000">1548.82 - 1548.90m</text>
<line x1="891.20" y1="1609.41" x2="940.30" y2="1609.41" stroke="#000" stroke-width="1.5" />
<rect x="940.30" y="1599.51" width="18.27" height="19.80" fill="#00FFFF" stroke="#000" stroke-width="1.4"/>
<text transform="translate(961.77,1616.91) scale(1,1.045)" font-size="22">5</text>
<rect x="996.00" y="1599.51" width="275.21" height="19.80" fill="#3366FF" stroke="#000" stroke-width="1.4"/>
<text transform="translate(1274.41,1616.91) scale(1,1.045)" font-size="22">68</text>
<rect x="1397.60" y="1599.51" width="48.79" height="19.80" fill="#6E6E6E" stroke="#000" stroke-width="1.4"/>
<text transform="translate(1449.59,1616.91) scale(1,1.045)" font-size="22">12</text>
<rect x="1513.00" y="1599.51" width="25.12" height="19.80" fill="#FF9900" stroke="#000" stroke-width="1.4"/>
<text transform="translate(1541.32,1616.91) scale(1,1.045)" font-size="22">6</text>
<rect x="1631.70" y="1599.51" width="33.13" height="19.80" fill="#FFFF66" stroke="#000" stroke-width="1.4"/>
<text transform="translate(1668.03,1616.91) scale(1,1.045)" font-size="22">8</text>
<rect x="1751.70" y="1599.51" width="2.88" height="19.80" fill="#808000" stroke="#000" stroke-width="1.4"/>
<line x1="619.60" y1="1647.80" x2="631.50" y2="1647.80" stroke="#000" stroke-width="1.5" />
<line x1="623.40" y1="1644.20" x2="623.40" y2="1651.40" stroke="#000" stroke-width="1.5" />
<text transform="translate(636.40,1657.90) scale(1,1.045)" font-size="28.2" fill="#000">1551.20 - 1551.29m</text>
<line x1="891.20" y1="1647.80" x2="940.30" y2="1647.80" stroke="#000" stroke-width="1.5" />
<rect x="996.00" y="1637.90" width="264.40" height="19.80" fill="#3366FF" stroke="#000" stroke-width="1.4"/>
<text transform="translate(1263.60,1655.30) scale(1,1.045)" font-size="22">66</text>
<rect x="1397.60" y="1637.90" width="87.41" height="19.80" fill="#6E6E6E" stroke="#000" stroke-width="1.4"/>
<text transform="translate(1488.21,1655.30) scale(1,1.045)" font-size="22">22</text>
<rect x="1513.00" y="1637.90" width="20.75" height="19.80" fill="#FF9900" stroke="#000" stroke-width="1.4"/>
<text transform="translate(1536.95,1655.30) scale(1,1.045)" font-size="22">5</text>
<rect x="1631.70" y="1637.90" width="28.44" height="19.80" fill="#FFFF66" stroke="#000" stroke-width="1.4"/>
<text transform="translate(1663.34,1655.30) scale(1,1.045)" font-size="22">7</text>
<rect x="1751.70" y="1637.90" width="2.88" height="19.80" fill="#808000" stroke="#000" stroke-width="1.4"/>
<line x1="619.60" y1="1810.00" x2="631.50" y2="1810.00" stroke="#000" stroke-width="1.5" />
<line x1="623.40" y1="1806.40" x2="623.40" y2="1813.60" stroke="#000" stroke-width="1.5" />
<text transform="translate(636.40,1820.10) scale(1,1.045)" font-size="28.2" fill="#000">1561.30 - 1561.39m</text>
<line x1="891.20" y1="1810.00" x2="940.30" y2="1810.00" stroke="#000" stroke-width="1.5" />
<rect x="940.30" y="1800.10" width="3.61" height="19.80" fill="#00FFFF" stroke="#000" stroke-width="1.4"/>
<rect x="996.00" y="1800.10" width="283.70" height="19.80" fill="#3366FF" stroke="#000" stroke-width="1.4"/>
<text transform="translate(1282.90,1817.50) scale(1,1.045)" font-size="22">71</text>
<rect x="1397.60" y="1800.10" width="61.17" height="19.80" fill="#6E6E6E" stroke="#000" stroke-width="1.4"/>
<text transform="translate(1461.97,1817.50) scale(1,1.045)" font-size="22">15</text>
<rect x="1513.00" y="1800.10" width="22.23" height="19.80" fill="#FF9900" stroke="#000" stroke-width="1.4"/>
<text transform="translate(1538.43,1817.50) scale(1,1.045)" font-size="22">6</text>
<rect x="1631.70" y="1800.10" width="25.12" height="19.80" fill="#FFFF66" stroke="#000" stroke-width="1.4"/>
<text transform="translate(1660.02,1817.50) scale(1,1.045)" font-size="22">6</text>
<rect x="1751.70" y="1800.10" width="2.88" height="19.80" fill="#808000" stroke="#000" stroke-width="1.4"/>
<rect x="1791.30" y="1800.10" width="2.88" height="19.80" fill="#008080" stroke="#000" stroke-width="1.4"/>
<line x1="619.60" y1="1962.73" x2="631.50" y2="1962.73" stroke="#000" stroke-width="1.5" />
<line x1="623.40" y1="1959.13" x2="623.40" y2="1966.33" stroke="#000" stroke-width="1.5" />
<text transform="translate(636.40,1972.83) scale(1,1.045)" font-size="28.2" fill="#000">1570.80 - 1570.90m</text>
<line x1="891.20" y1="1962.73" x2="940.30" y2="1962.73" stroke="#000" stroke-width="1.5" />
<rect x="940.30" y="1952.83" width="3.20" height="19.80" fill="#00FFFF" stroke="#000" stroke-width="1.4"/>
<rect x="996.00" y="1952.83" width="303.41" height="19.80" fill="#3366FF" stroke="#000" stroke-width="1.4"/>
<text transform="translate(1302.61,1970.23) scale(1,1.045)" font-size="22">76</text>
<rect x="1397.60" y="1952.83" width="41.14" height="19.80" fill="#6E6E6E" stroke="#000" stroke-width="1.4"/>
<text transform="translate(1441.94,1970.23) scale(1,1.045)" font-size="22">10</text>
<rect x="1513.00" y="1952.83" width="13.46" height="19.80" fill="#FF9900" stroke="#000" stroke-width="1.4"/>
<text transform="translate(1529.66,1970.23) scale(1,1.045)" font-size="22">3</text>
<rect x="1631.70" y="1952.83" width="42.22" height="19.80" fill="#FFFF66" stroke="#000" stroke-width="1.4"/>
<text transform="translate(1677.12,1970.23) scale(1,1.045)" font-size="22">10</text>
<rect x="1751.70" y="1952.83" width="2.88" height="19.80" fill="#808000" stroke="#000" stroke-width="1.4"/>
<line x1="619.60" y1="2092.66" x2="631.50" y2="2092.66" stroke="#000" stroke-width="1.5" />
<line x1="623.40" y1="2089.06" x2="623.40" y2="2096.26" stroke="#000" stroke-width="1.5" />
<text transform="translate(636.40,2102.76) scale(1,1.045)" font-size="28.2" fill="#000">1578.90 - 1578.99m</text>
<line x1="891.20" y1="2092.66" x2="940.30" y2="2092.66" stroke="#000" stroke-width="1.5" />
<rect x="940.30" y="2082.76" width="13.06" height="19.80" fill="#00FFFF" stroke="#000" stroke-width="1.4"/>
<text transform="translate(956.56,2100.16) scale(1,1.045)" font-size="22">3</text>
<rect x="996.00" y="2082.76" width="304.86" height="19.80" fill="#3366FF" stroke="#000" stroke-width="1.4"/>
<text transform="translate(1304.06,2100.16) scale(1,1.045)" font-size="22">76</text>
<rect x="1397.60" y="2082.76" width="21.83" height="19.80" fill="#6E6E6E" stroke="#000" stroke-width="1.4"/>
<text transform="translate(1422.63,2100.16) scale(1,1.045)" font-size="22">5</text>
<rect x="1513.00" y="2082.76" width="13.82" height="19.80" fill="#FF9900" stroke="#000" stroke-width="1.4"/>
<text transform="translate(1530.02,2100.16) scale(1,1.045)" font-size="22">3</text>
<rect x="1631.70" y="2082.76" width="48.47" height="19.80" fill="#FFFF66" stroke="#000" stroke-width="1.4"/>
<text transform="translate(1683.37,2100.16) scale(1,1.045)" font-size="22">12</text>
<line x1="619.60" y1="2176.97" x2="631.50" y2="2176.97" stroke="#000" stroke-width="1.5" />
<line x1="623.40" y1="2173.37" x2="623.40" y2="2180.57" stroke="#000" stroke-width="1.5" />
<text transform="translate(636.40,2187.07) scale(1,1.045)" font-size="28.2" fill="#000">1584.16 - 1584.24m</text>
<line x1="891.20" y1="2176.97" x2="940.30" y2="2176.97" stroke="#000" stroke-width="1.5" />
<rect x="940.30" y="2167.07" width="36.05" height="19.80" fill="#00FFFF" stroke="#000" stroke-width="1.4"/>
<text transform="translate(979.55,2184.47) scale(1,1.045)" font-size="22">9</text>
<rect x="996.00" y="2167.07" width="254.50" height="19.80" fill="#3366FF" stroke="#000" stroke-width="1.4"/>
<text transform="translate(1253.70,2184.47) scale(1,1.045)" font-size="22">63</text>
<rect x="1397.60" y="2167.07" width="46.99" height="19.80" fill="#6E6E6E" stroke="#000" stroke-width="1.4"/>
<text transform="translate(1447.79,2184.47) scale(1,1.045)" font-size="22">12</text>
<rect x="1513.00" y="2167.07" width="25.12" height="19.80" fill="#FF9900" stroke="#000" stroke-width="1.4"/>
<text transform="translate(1541.32,2184.47) scale(1,1.045)" font-size="22">6</text>
<rect x="1631.70" y="2167.07" width="39.34" height="19.80" fill="#FFFF66" stroke="#000" stroke-width="1.4"/>
<text transform="translate(1674.24,2184.47) scale(1,1.045)" font-size="22">10</text>
<line x1="619.60" y1="2204.76" x2="631.50" y2="2204.76" stroke="#000" stroke-width="1.5" />
<line x1="623.40" y1="2201.16" x2="623.40" y2="2208.36" stroke="#000" stroke-width="1.5" />
<text transform="translate(636.40,2214.86) scale(1,1.045)" font-size="28.2" fill="#000">1585.87 - 1585.97m</text>
<line x1="891.20" y1="2204.76" x2="940.30" y2="2204.76" stroke="#000" stroke-width="1.5" />
<rect x="940.30" y="2194.86" width="5.41" height="19.80" fill="#00FFFF" stroke="#000" stroke-width="1.4"/>
<text transform="translate(948.91,2212.26) scale(1,1.045)" font-size="22">1</text>
<rect x="996.00" y="2194.86" width="231.51" height="19.80" fill="#3366FF" stroke="#000" stroke-width="1.4"/>
<text transform="translate(1230.71,2212.26) scale(1,1.045)" font-size="22">57</text>
<rect x="1397.60" y="2194.86" width="56.48" height="19.80" fill="#6E6E6E" stroke="#000" stroke-width="1.4"/>
<text transform="translate(1457.28,2212.26) scale(1,1.045)" font-size="22">14</text>
<rect x="1513.00" y="2194.86" width="16.42" height="19.80" fill="#FF9900" stroke="#000" stroke-width="1.4"/>
<text transform="translate(1532.62,2212.26) scale(1,1.045)" font-size="22">4</text>
<rect x="1631.70" y="2194.86" width="92.14" height="19.80" fill="#FFFF66" stroke="#000" stroke-width="1.4"/>
<text transform="translate(1727.04,2212.26) scale(1,1.045)" font-size="22">23</text>
<rect x="1751.70" y="2194.86" width="2.88" height="19.80" fill="#808000" stroke="#000" stroke-width="1.4"/>
<line x1="619.60" y1="2344.80" x2="631.50" y2="2344.80" stroke="#000" stroke-width="1.5" />
<line x1="623.40" y1="2341.20" x2="623.40" y2="2348.40" stroke="#000" stroke-width="1.5" />
<text transform="translate(636.40,2354.90) scale(1,1.045)" font-size="28.2" fill="#000">1594.61 - 1594.69m</text>
<line x1="891.20" y1="2344.80" x2="940.30" y2="2344.80" stroke="#000" stroke-width="1.5" />
<rect x="940.30" y="2334.90" width="3.20" height="19.80" fill="#00FFFF" stroke="#000" stroke-width="1.4"/>
<rect x="996.00" y="2334.90" width="331.78" height="19.80" fill="#3366FF" stroke="#000" stroke-width="1.4"/>
<text transform="translate(1330.98,2352.30) scale(1,1.045)" font-size="22">83</text>
<rect x="1397.60" y="2334.90" width="15.30" height="19.80" fill="#6E6E6E" stroke="#000" stroke-width="1.4"/>
<text transform="translate(1416.10,2352.30) scale(1,1.045)" font-size="22">4</text>
<rect x="1513.00" y="2334.90" width="30.61" height="19.80" fill="#FF9900" stroke="#000" stroke-width="1.4"/>
<text transform="translate(1546.81,2352.30) scale(1,1.045)" font-size="22">8</text>
<rect x="1631.70" y="2334.90" width="21.83" height="19.80" fill="#FFFF66" stroke="#000" stroke-width="1.4"/>
<text transform="translate(1656.73,2352.30) scale(1,1.045)" font-size="22">5</text>
<rect x="1751.70" y="2334.90" width="2.88" height="19.80" fill="#808000" stroke="#000" stroke-width="1.4"/>
<line x1="619.60" y1="2423.50" x2="631.50" y2="2423.50" stroke="#000" stroke-width="1.5" />
<line x1="623.40" y1="2419.90" x2="623.40" y2="2427.10" stroke="#000" stroke-width="1.5" />
<text transform="translate(636.40,2433.60) scale(1,1.045)" font-size="28.2" fill="#000">1599.53 - 1599.59m</text>
<line x1="891.20" y1="2423.50" x2="940.30" y2="2423.50" stroke="#000" stroke-width="1.5" />
<rect x="940.30" y="2413.60" width="3.61" height="19.80" fill="#00FFFF" stroke="#000" stroke-width="1.4"/>
<rect x="996.00" y="2413.60" width="295.40" height="19.80" fill="#3366FF" stroke="#000" stroke-width="1.4"/>
<text transform="translate(1294.60,2431.00) scale(1,1.045)" font-size="22">74</text>
<rect x="1397.60" y="2413.60" width="27.32" height="19.80" fill="#6E6E6E" stroke="#000" stroke-width="1.4"/>
<text transform="translate(1428.12,2431.00) scale(1,1.045)" font-size="22">7</text>
<rect x="1513.00" y="2413.60" width="45.51" height="19.80" fill="#FF9900" stroke="#000" stroke-width="1.4"/>
<text transform="translate(1561.71,2431.00) scale(1,1.045)" font-size="22">11</text>
<rect x="1631.70" y="2413.60" width="29.84" height="19.80" fill="#FFFF66" stroke="#000" stroke-width="1.4"/>
<text transform="translate(1664.74,2431.00) scale(1,1.045)" font-size="22">7</text>
<line x1="619.60" y1="2454.33" x2="631.50" y2="2454.33" stroke="#000" stroke-width="1.5" />
<line x1="623.40" y1="2450.73" x2="623.40" y2="2457.93" stroke="#000" stroke-width="1.5" />
<text transform="translate(636.40,2464.43) scale(1,1.045)" font-size="28.2" fill="#000">1601.44 - 1601.51m</text>
<line x1="891.20" y1="2454.33" x2="940.30" y2="2454.33" stroke="#000" stroke-width="1.5" />
<rect x="940.30" y="2444.43" width="2.88" height="19.80" fill="#00FFFF" stroke="#000" stroke-width="1.4"/>
<rect x="996.00" y="2444.43" width="300.45" height="19.80" fill="#3366FF" stroke="#000" stroke-width="1.4"/>
<text transform="translate(1299.65,2461.83) scale(1,1.045)" font-size="22">75</text>
<rect x="1397.60" y="2444.43" width="32.05" height="19.80" fill="#6E6E6E" stroke="#000" stroke-width="1.4"/>
<text transform="translate(1432.85,2461.83) scale(1,1.045)" font-size="22">8</text>
<rect x="1513.00" y="2444.43" width="38.98" height="19.80" fill="#FF9900" stroke="#000" stroke-width="1.4"/>
<text transform="translate(1555.18,2461.83) scale(1,1.045)" font-size="22">10</text>
<rect x="1631.70" y="2444.43" width="28.04" height="19.80" fill="#FFFF66" stroke="#000" stroke-width="1.4"/>
<text transform="translate(1662.94,2461.83) scale(1,1.045)" font-size="22">7</text>
<rect x="1751.70" y="2444.43" width="2.88" height="19.80" fill="#808000" stroke="#000" stroke-width="1.4"/>
<line x1="619.60" y1="2519.37" x2="631.50" y2="2519.37" stroke="#000" stroke-width="1.5" />
<line x1="623.40" y1="2515.77" x2="623.40" y2="2522.97" stroke="#000" stroke-width="1.5" />
<text transform="translate(636.40,2529.47) scale(1,1.045)" font-size="28.2" fill="#000">1605.49 - 1605.56m</text>
<line x1="891.20" y1="2519.37" x2="940.30" y2="2519.37" stroke="#000" stroke-width="1.5" />
<rect x="940.30" y="2509.47" width="3.61" height="19.80" fill="#00FFFF" stroke="#000" stroke-width="1.4"/>
<rect x="996.00" y="2509.47" width="309.18" height="19.80" fill="#3366FF" stroke="#000" stroke-width="1.4"/>
<text transform="translate(1308.38,2526.87) scale(1,1.045)" font-size="22">77</text>
<rect x="1397.60" y="2509.47" width="37.86" height="19.80" fill="#6E6E6E" stroke="#000" stroke-width="1.4"/>
<text transform="translate(1438.66,2526.87) scale(1,1.045)" font-size="22">9</text>
<rect x="1513.00" y="2509.47" width="17.87" height="19.80" fill="#FF9900" stroke="#000" stroke-width="1.4"/>
<text transform="translate(1534.07,2526.87) scale(1,1.045)" font-size="22">5</text>
<rect x="1631.70" y="2509.47" width="33.13" height="19.80" fill="#FFFF66" stroke="#000" stroke-width="1.4"/>
<text transform="translate(1668.03,2526.87) scale(1,1.045)" font-size="22">8</text>
<line x1="619.60" y1="2563.70" x2="631.50" y2="2563.70" stroke="#000" stroke-width="1.5" />
<line x1="623.40" y1="2560.10" x2="623.40" y2="2567.30" stroke="#000" stroke-width="1.5" />
<text transform="translate(636.40,2573.80) scale(1,1.045)" font-size="28.2" fill="#000">1608.17 - 1608.32m</text>
<line x1="891.20" y1="2563.70" x2="940.30" y2="2563.70" stroke="#000" stroke-width="1.5" />
<rect x="940.30" y="2553.80" width="2.88" height="19.80" fill="#00FFFF" stroke="#000" stroke-width="1.4"/>
<rect x="996.00" y="2553.80" width="235.63" height="19.80" fill="#3366FF" stroke="#000" stroke-width="1.4"/>
<text transform="translate(1234.83,2571.20) scale(1,1.045)" font-size="22">59</text>
<rect x="1397.60" y="2553.80" width="42.22" height="19.80" fill="#6E6E6E" stroke="#000" stroke-width="1.4"/>
<text transform="translate(1443.02,2571.20) scale(1,1.045)" font-size="22">10</text>
<rect x="1513.00" y="2553.80" width="40.46" height="19.80" fill="#FF9900" stroke="#000" stroke-width="1.4"/>
<text transform="translate(1556.66,2571.20) scale(1,1.045)" font-size="22">10</text>
<rect x="1631.70" y="2553.80" width="82.68" height="19.80" fill="#FFFF66" stroke="#000" stroke-width="1.4"/>
<text transform="translate(1717.58,2571.20) scale(1,1.045)" font-size="22">21</text>
<line x1="619.60" y1="2639.18" x2="631.50" y2="2639.18" stroke="#000" stroke-width="1.5" />
<line x1="623.40" y1="2635.58" x2="623.40" y2="2642.78" stroke="#000" stroke-width="1.5" />
<text transform="translate(636.40,2649.28) scale(1,1.045)" font-size="28.2" fill="#000">1612.94 - 1613.02m</text>
<line x1="891.20" y1="2639.18" x2="940.30" y2="2639.18" stroke="#000" stroke-width="1.5" />
<rect x="940.30" y="2629.28" width="2.88" height="19.80" fill="#00FFFF" stroke="#000" stroke-width="1.4"/>
<rect x="996.00" y="2629.28" width="250.50" height="19.80" fill="#3366FF" stroke="#000" stroke-width="1.4"/>
<text transform="translate(1249.70,2646.68) scale(1,1.045)" font-size="22">62</text>
<rect x="1397.60" y="2629.28" width="52.80" height="19.80" fill="#6E6E6E" stroke="#000" stroke-width="1.4"/>
<text transform="translate(1453.60,2646.68) scale(1,1.045)" font-size="22">13</text>
<rect x="1513.00" y="2629.28" width="33.49" height="19.80" fill="#FF9900" stroke="#000" stroke-width="1.4"/>
<text transform="translate(1549.69,2646.68) scale(1,1.045)" font-size="22">8</text>
<rect x="1631.70" y="2629.28" width="60.81" height="19.80" fill="#FFFF66" stroke="#000" stroke-width="1.4"/>
<text transform="translate(1695.71,2646.68) scale(1,1.045)" font-size="22">15</text>
<rect x="1751.70" y="2629.28" width="2.88" height="19.80" fill="#808000" stroke="#000" stroke-width="1.4"/>
<line x1="619.60" y1="2701.17" x2="631.50" y2="2701.17" stroke="#000" stroke-width="1.5" />
<line x1="623.40" y1="2697.57" x2="623.40" y2="2704.77" stroke="#000" stroke-width="1.5" />
<text transform="translate(636.40,2711.27) scale(1,1.045)" font-size="28.2" fill="#000">1616.79 - 1616.88m</text>
<line x1="891.20" y1="2701.17" x2="940.30" y2="2701.17" stroke="#000" stroke-width="1.5" />
<rect x="940.30" y="2691.27" width="6.25" height="19.80" fill="#00FFFF" stroke="#000" stroke-width="1.4"/>
<text transform="translate(949.75,2708.67) scale(1,1.045)" font-size="22">2</text>
<rect x="996.00" y="2691.27" width="234.79" height="19.80" fill="#3366FF" stroke="#000" stroke-width="1.4"/>
<text transform="translate(1233.99,2708.67) scale(1,1.045)" font-size="22">58</text>
<rect x="1397.60" y="2691.27" width="53.88" height="19.80" fill="#6E6E6E" stroke="#000" stroke-width="1.4"/>
<text transform="translate(1454.68,2708.67) scale(1,1.045)" font-size="22">13</text>
<rect x="1513.00" y="2691.27" width="30.25" height="19.80" fill="#FF9900" stroke="#000" stroke-width="1.4"/>
<text transform="translate(1546.45,2708.67) scale(1,1.045)" font-size="22">8</text>
<rect x="1631.70" y="2691.27" width="76.11" height="19.80" fill="#FFFF66" stroke="#000" stroke-width="1.4"/>
<text transform="translate(1711.01,2708.67) scale(1,1.045)" font-size="22">19</text>
<rect x="1751.70" y="2691.27" width="2.88" height="19.80" fill="#808000" stroke="#000" stroke-width="1.4"/>
<line x1="619.60" y1="2778.26" x2="631.50" y2="2778.26" stroke="#000" stroke-width="1.5" />
<line x1="623.40" y1="2774.66" x2="623.40" y2="2781.86" stroke="#000" stroke-width="1.5" />
<text transform="translate(636.40,2788.36) scale(1,1.045)" font-size="28.2" fill="#000">1621.59 - 1621.68m</text>
<line x1="891.20" y1="2778.26" x2="940.30" y2="2778.26" stroke="#000" stroke-width="1.5" />
<rect x="940.30" y="2768.36" width="5.41" height="19.80" fill="#00FFFF" stroke="#000" stroke-width="1.4"/>
<text transform="translate(948.91,2785.76) scale(1,1.045)" font-size="22">1</text>
<rect x="996.00" y="2768.36" width="232.35" height="19.80" fill="#3366FF" stroke="#000" stroke-width="1.4"/>
<text transform="translate(1231.55,2785.76) scale(1,1.045)" font-size="22">58</text>
<rect x="1397.60" y="2768.36" width="44.47" height="19.80" fill="#6E6E6E" stroke="#000" stroke-width="1.4"/>
<text transform="translate(1445.27,2785.76) scale(1,1.045)" font-size="22">11</text>
<rect x="1513.00" y="2768.36" width="50.64" height="19.80" fill="#FF9900" stroke="#000" stroke-width="1.4"/>
<text transform="translate(1566.84,2785.76) scale(1,1.045)" font-size="22">13</text>
<rect x="1631.70" y="2768.36" width="69.90" height="19.80" fill="#FFFF66" stroke="#000" stroke-width="1.4"/>
<text transform="translate(1704.80,2785.76) scale(1,1.045)" font-size="22">17</text>
<line x1="619.60" y1="2876.39" x2="631.50" y2="2876.39" stroke="#000" stroke-width="1.5" />
<line x1="623.40" y1="2872.79" x2="623.40" y2="2879.99" stroke="#000" stroke-width="1.5" />
<text transform="translate(636.40,2886.49) scale(1,1.045)" font-size="28.2" fill="#000">1627.72 - 1627.79m</text>
<line x1="891.20" y1="2876.39" x2="940.30" y2="2876.39" stroke="#000" stroke-width="1.5" />
<rect x="940.30" y="2866.49" width="5.41" height="19.80" fill="#00FFFF" stroke="#000" stroke-width="1.4"/>
<text transform="translate(948.91,2883.89) scale(1,1.045)" font-size="22">1</text>
<rect x="996.00" y="2866.49" width="284.83" height="19.80" fill="#3366FF" stroke="#000" stroke-width="1.4"/>
<text transform="translate(1284.03,2883.89) scale(1,1.045)" font-size="22">71</text>
<rect x="1397.60" y="2866.49" width="44.07" height="19.80" fill="#6E6E6E" stroke="#000" stroke-width="1.4"/>
<text transform="translate(1444.87,2883.89) scale(1,1.045)" font-size="22">11</text>
<rect x="1513.00" y="2866.49" width="18.59" height="19.80" fill="#FF9900" stroke="#000" stroke-width="1.4"/>
<text transform="translate(1534.79,2883.89) scale(1,1.045)" font-size="22">5</text>
<rect x="1631.70" y="2866.49" width="48.07" height="19.80" fill="#FFFF66" stroke="#000" stroke-width="1.4"/>
<text transform="translate(1682.97,2883.89) scale(1,1.045)" font-size="22">12</text>
<rect x="1791.30" y="2866.49" width="2.88" height="19.80" fill="#008080" stroke="#000" stroke-width="1.4"/>
<line x1="619.60" y1="2970.18" x2="631.50" y2="2970.18" stroke="#000" stroke-width="1.5" />
<line x1="623.40" y1="2966.58" x2="623.40" y2="2973.78" stroke="#000" stroke-width="1.5" />
<text transform="translate(636.40,2980.28) scale(1,1.045)" font-size="28.2" fill="#000">1633.57 - 1633.63m</text>
<line x1="891.20" y1="2970.18" x2="940.30" y2="2970.18" stroke="#000" stroke-width="1.5" />
<rect x="940.30" y="2960.28" width="2.88" height="19.80" fill="#00FFFF" stroke="#000" stroke-width="1.4"/>
<rect x="996.00" y="2960.28" width="310.22" height="19.80" fill="#3366FF" stroke="#000" stroke-width="1.4"/>
<text transform="translate(1309.42,2977.68) scale(1,1.045)" font-size="22">77</text>
<rect x="1397.60" y="2960.28" width="24.04" height="19.80" fill="#6E6E6E" stroke="#000" stroke-width="1.4"/>
<text transform="translate(1424.84,2977.68) scale(1,1.045)" font-size="22">6</text>
<rect x="1513.00" y="2960.28" width="24.04" height="19.80" fill="#FF9900" stroke="#000" stroke-width="1.4"/>
<text transform="translate(1540.24,2977.68) scale(1,1.045)" font-size="22">6</text>
<rect x="1631.70" y="2960.28" width="41.14" height="19.80" fill="#FFFF66" stroke="#000" stroke-width="1.4"/>
<text transform="translate(1676.04,2977.68) scale(1,1.045)" font-size="22">10</text>
<rect x="1751.70" y="2960.28" width="2.88" height="19.80" fill="#808000" stroke="#000" stroke-width="1.4"/>
<line x1="619.60" y1="3001.66" x2="631.50" y2="3001.66" stroke="#000" stroke-width="1.5" />
<line x1="623.40" y1="2998.06" x2="623.40" y2="3005.26" stroke="#000" stroke-width="1.5" />
<text transform="translate(636.40,3011.76) scale(1,1.045)" font-size="28.2" fill="#000">1635.52 - 1635.59m</text>
<line x1="891.20" y1="3001.66" x2="940.30" y2="3001.66" stroke="#000" stroke-width="1.5" />
<rect x="940.30" y="2991.76" width="2.88" height="19.80" fill="#00FFFF" stroke="#000" stroke-width="1.4"/>
<rect x="996.00" y="2991.76" width="243.32" height="19.80" fill="#3366FF" stroke="#000" stroke-width="1.4"/>
<text transform="translate(1242.52,3009.16) scale(1,1.045)" font-size="22">61</text>
<rect x="1397.60" y="2991.76" width="51.00" height="19.80" fill="#6E6E6E" stroke="#000" stroke-width="1.4"/>
<text transform="translate(1451.80,3009.16) scale(1,1.045)" font-size="22">13</text>
<rect x="1513.00" y="2991.76" width="57.53" height="19.80" fill="#FF9900" stroke="#000" stroke-width="1.4"/>
<text transform="translate(1573.73,3009.16) scale(1,1.045)" font-size="22">14</text>
<rect x="1631.70" y="2991.76" width="46.23" height="19.80" fill="#FFFF66" stroke="#000" stroke-width="1.4"/>
<text transform="translate(1681.13,3009.16) scale(1,1.045)" font-size="22">11</text>
<rect x="1751.70" y="2991.76" width="2.88" height="19.80" fill="#808000" stroke="#000" stroke-width="1.4"/>
<line x1="619.60" y1="3083.24" x2="631.50" y2="3083.24" stroke="#000" stroke-width="1.5" />
<line x1="623.40" y1="3079.64" x2="623.40" y2="3086.84" stroke="#000" stroke-width="1.5" />
<text transform="translate(636.40,3093.34) scale(1,1.045)" font-size="28.2" fill="#000">1640.59 - 1640.67m</text>
<line x1="891.20" y1="3083.24" x2="940.30" y2="3083.24" stroke="#000" stroke-width="1.5" />
<rect x="940.30" y="3073.34" width="4.73" height="19.80" fill="#00FFFF" stroke="#000" stroke-width="1.4"/>
<text transform="translate(948.23,3090.74) scale(1,1.045)" font-size="22">1</text>
<rect x="996.00" y="3073.34" width="318.92" height="19.80" fill="#3366FF" stroke="#000" stroke-width="1.4"/>
<text transform="translate(1318.12,3090.74) scale(1,1.045)" font-size="22">79</text>
<rect x="1397.60" y="3073.34" width="24.44" height="19.80" fill="#6E6E6E" stroke="#000" stroke-width="1.4"/>
<text transform="translate(1425.24,3090.74) scale(1,1.045)" font-size="22">6</text>
<rect x="1513.00" y="3073.34" width="20.75" height="19.80" fill="#FF9900" stroke="#000" stroke-width="1.4"/>
<text transform="translate(1536.95,3090.74) scale(1,1.045)" font-size="22">5</text>
<rect x="1631.70" y="3073.34" width="30.97" height="19.80" fill="#FFFF66" stroke="#000" stroke-width="1.4"/>
<text transform="translate(1665.87,3090.74) scale(1,1.045)" font-size="22">8</text>
<rect x="1751.70" y="3073.34" width="2.88" height="19.80" fill="#808000" stroke="#000" stroke-width="1.4"/>
<line x1="619.60" y1="3161.61" x2="631.50" y2="3161.61" stroke="#000" stroke-width="1.5" />
<line x1="623.40" y1="3158.01" x2="623.40" y2="3165.21" stroke="#000" stroke-width="1.5" />
<text transform="translate(636.40,3171.71) scale(1,1.045)" font-size="28.2" fill="#000">1645.51 - 1645.55m</text>
<line x1="891.20" y1="3161.61" x2="940.30" y2="3161.61" stroke="#000" stroke-width="1.5" />
<rect x="940.30" y="3151.71" width="6.25" height="19.80" fill="#00FFFF" stroke="#000" stroke-width="1.4"/>
<text transform="translate(949.75,3169.11) scale(1,1.045)" font-size="22">2</text>
<rect x="996.00" y="3151.71" width="252.38" height="19.80" fill="#3366FF" stroke="#000" stroke-width="1.4"/>
<text transform="translate(1251.58,3169.11) scale(1,1.045)" font-size="22">63</text>
<rect x="1397.60" y="3151.71" width="53.88" height="19.80" fill="#6E6E6E" stroke="#000" stroke-width="1.4"/>
<text transform="translate(1454.68,3169.11) scale(1,1.045)" font-size="22">13</text>
<rect x="1513.00" y="3151.71" width="37.90" height="19.80" fill="#FF9900" stroke="#000" stroke-width="1.4"/>
<text transform="translate(1554.10,3169.11) scale(1,1.045)" font-size="22">10</text>
<rect x="1631.70" y="3151.71" width="49.51" height="19.80" fill="#FFFF66" stroke="#000" stroke-width="1.4"/>
<text transform="translate(1684.41,3169.11) scale(1,1.045)" font-size="22">12</text>
<rect x="1751.70" y="3151.71" width="2.88" height="19.80" fill="#808000" stroke="#000" stroke-width="1.4"/>
<line x1="619.60" y1="3277.41" x2="631.50" y2="3277.41" stroke="#000" stroke-width="1.5" />
<line x1="623.40" y1="3273.81" x2="623.40" y2="3281.01" stroke="#000" stroke-width="1.5" />
<text transform="translate(636.40,3287.51) scale(1,1.045)" font-size="28.2" fill="#000">1652.68 - 1652.76m</text>
<line x1="891.20" y1="3277.41" x2="940.30" y2="3277.41" stroke="#000" stroke-width="1.5" />
<rect x="940.30" y="3267.51" width="33.45" height="19.80" fill="#00FFFF" stroke="#000" stroke-width="1.4"/>
<text transform="translate(976.95,3284.91) scale(1,1.045)" font-size="22">8</text>
<rect x="996.00" y="3267.51" width="176.26" height="19.80" fill="#3366FF" stroke="#000" stroke-width="1.4"/>
<text transform="translate(1175.46,3284.91) scale(1,1.045)" font-size="22">44</text>
<rect x="1397.60" y="3267.51" width="53.52" height="19.80" fill="#6E6E6E" stroke="#000" stroke-width="1.4"/>
<text transform="translate(1454.32,3284.91) scale(1,1.045)" font-size="22">13</text>
<rect x="1513.00" y="3267.51" width="79.40" height="19.80" fill="#FF9900" stroke="#000" stroke-width="1.4"/>
<text transform="translate(1595.60,3284.91) scale(1,1.045)" font-size="22">20</text>
<rect x="1631.70" y="3267.51" width="57.89" height="19.80" fill="#FFFF66" stroke="#000" stroke-width="1.4"/>
<text transform="translate(1692.79,3284.91) scale(1,1.045)" font-size="22">14</text>
<rect x="1831.30" y="3267.51" width="2.88" height="19.80" fill="#3A0096" stroke="#000" stroke-width="1.4"/>
<line x1="619.60" y1="3308.88" x2="631.50" y2="3308.88" stroke="#000" stroke-width="1.5" />
<line x1="623.40" y1="3305.28" x2="623.40" y2="3312.48" stroke="#000" stroke-width="1.5" />
<text transform="translate(636.40,3318.98) scale(1,1.045)" font-size="28.2" fill="#000">1654.65 - 1654.72m</text>
<line x1="891.20" y1="3308.88" x2="940.30" y2="3308.88" stroke="#000" stroke-width="1.5" />
<rect x="940.30" y="3298.98" width="27.32" height="19.80" fill="#00FFFF" stroke="#000" stroke-width="1.4"/>
<text transform="translate(970.82,3316.38) scale(1,1.045)" font-size="22">7</text>
<rect x="996.00" y="3298.98" width="240.36" height="19.80" fill="#3366FF" stroke="#000" stroke-width="1.4"/>
<text transform="translate(1239.56,3316.38) scale(1,1.045)" font-size="22">60</text>
<rect x="1397.60" y="3298.98" width="38.98" height="19.80" fill="#6E6E6E" stroke="#000" stroke-width="1.4"/>
<text transform="translate(1439.78,3316.38) scale(1,1.045)" font-size="22">10</text>
<rect x="1513.00" y="3298.98" width="58.25" height="19.80" fill="#FF9900" stroke="#000" stroke-width="1.4"/>
<text transform="translate(1574.45,3316.38) scale(1,1.045)" font-size="22">14</text>
<rect x="1631.70" y="3298.98" width="36.45" height="19.80" fill="#FFFF66" stroke="#000" stroke-width="1.4"/>
<text transform="translate(1671.35,3316.38) scale(1,1.045)" font-size="22">9</text>
<rect x="1751.70" y="3298.98" width="2.88" height="19.80" fill="#808000" stroke="#000" stroke-width="1.4"/>
<line x1="619.60" y1="3388.70" x2="631.50" y2="3388.70" stroke="#000" stroke-width="1.5" />
<line x1="623.40" y1="3385.10" x2="623.40" y2="3392.30" stroke="#000" stroke-width="1.5" />
<text transform="translate(636.40,3398.80) scale(1,1.045)" font-size="28.2" fill="#000">1659.67 - 1659.69m</text>
<line x1="891.20" y1="3388.70" x2="940.30" y2="3388.70" stroke="#000" stroke-width="1.5" />
<rect x="996.00" y="3378.80" width="318.24" height="19.80" fill="#3366FF" stroke="#000" stroke-width="1.4"/>
<text transform="translate(1317.44,3396.20) scale(1,1.045)" font-size="22">79</text>
<rect x="1397.60" y="3378.80" width="25.84" height="19.80" fill="#6E6E6E" stroke="#000" stroke-width="1.4"/>
<text transform="translate(1426.64,3396.20) scale(1,1.045)" font-size="22">6</text>
<rect x="1513.00" y="3378.80" width="35.33" height="19.80" fill="#FF9900" stroke="#000" stroke-width="1.4"/>
<text transform="translate(1551.53,3396.20) scale(1,1.045)" font-size="22">9</text>
<rect x="1631.70" y="3378.80" width="18.23" height="19.80" fill="#FFFF66" stroke="#000" stroke-width="1.4"/>
<text transform="translate(1653.13,3396.20) scale(1,1.045)" font-size="22">5</text>
<rect x="1751.70" y="3378.80" width="2.88" height="19.80" fill="#808000" stroke="#000" stroke-width="1.4"/>
<line x1="619.60" y1="3455.35" x2="631.50" y2="3455.35" stroke="#000" stroke-width="1.5" />
<line x1="623.40" y1="3451.75" x2="623.40" y2="3458.95" stroke="#000" stroke-width="1.5" />
<text transform="translate(636.40,3465.45) scale(1,1.045)" font-size="28.2" fill="#000">1663.78 - 1663.84m</text>
<line x1="891.20" y1="3455.35" x2="940.30" y2="3455.35" stroke="#000" stroke-width="1.5" />
<rect x="940.30" y="3445.45" width="2.88" height="19.80" fill="#00FFFF" stroke="#000" stroke-width="1.4"/>
<rect x="996.00" y="3445.45" width="185.32" height="19.80" fill="#3366FF" stroke="#000" stroke-width="1.4"/>
<text transform="translate(1184.52,3462.85) scale(1,1.045)" font-size="22">46</text>
<rect x="1397.60" y="3445.45" width="60.09" height="19.80" fill="#6E6E6E" stroke="#000" stroke-width="1.4"/>
<text transform="translate(1460.89,3462.85) scale(1,1.045)" font-size="22">15</text>
<rect x="1513.00" y="3445.45" width="63.37" height="19.80" fill="#FF9900" stroke="#000" stroke-width="1.4"/>
<text transform="translate(1579.57,3462.85) scale(1,1.045)" font-size="22">16</text>
<rect x="1631.70" y="3445.45" width="85.93" height="19.80" fill="#FFFF66" stroke="#000" stroke-width="1.4"/>
<text transform="translate(1720.83,3462.85) scale(1,1.045)" font-size="22">21</text>
<rect x="1751.70" y="3445.45" width="5.81" height="19.80" fill="#808000" stroke="#000" stroke-width="1.4"/>
<text transform="translate(1760.71,3462.85) scale(1,1.045)" font-size="22">1</text>
<line x1="619.60" y1="3517.34" x2="631.50" y2="3517.34" stroke="#000" stroke-width="1.5" />
<line x1="623.40" y1="3513.74" x2="623.40" y2="3520.94" stroke="#000" stroke-width="1.5" />
<text transform="translate(636.40,3527.44) scale(1,1.045)" font-size="28.2" fill="#000">1667.66 - 1667.70m</text>
<line x1="891.20" y1="3517.34" x2="940.30" y2="3517.34" stroke="#000" stroke-width="1.5" />
<rect x="940.30" y="3507.44" width="6.97" height="19.80" fill="#00FFFF" stroke="#000" stroke-width="1.4"/>
<text transform="translate(950.47,3524.84) scale(1,1.045)" font-size="22">2</text>
<rect x="996.00" y="3507.44" width="237.40" height="19.80" fill="#3366FF" stroke="#000" stroke-width="1.4"/>
<text transform="translate(1236.60,3524.84) scale(1,1.045)" font-size="22">59</text>
<rect x="1397.60" y="3507.44" width="49.15" height="19.80" fill="#6E6E6E" stroke="#000" stroke-width="1.4"/>
<text transform="translate(1449.95,3524.84) scale(1,1.045)" font-size="22">12</text>
<rect x="1513.00" y="3507.44" width="59.37" height="19.80" fill="#FF9900" stroke="#000" stroke-width="1.4"/>
<text transform="translate(1575.57,3524.84) scale(1,1.045)" font-size="22">15</text>
<rect x="1631.70" y="3507.44" width="48.87" height="19.80" fill="#FFFF66" stroke="#000" stroke-width="1.4"/>
<text transform="translate(1683.77,3524.84) scale(1,1.045)" font-size="22">12</text>
<rect x="1751.70" y="3507.44" width="2.88" height="19.80" fill="#808000" stroke="#000" stroke-width="1.4"/>
<line x1="619.60" y1="3573.87" x2="631.50" y2="3573.87" stroke="#000" stroke-width="1.5" />
<line x1="623.40" y1="3570.27" x2="623.40" y2="3577.47" stroke="#000" stroke-width="1.5" />
<text transform="translate(636.40,3583.97) scale(1,1.045)" font-size="28.2" fill="#000">1671.16 - 1671.22m</text>
<line x1="891.20" y1="3573.87" x2="940.30" y2="3573.87" stroke="#000" stroke-width="1.5" />
<rect x="940.30" y="3563.97" width="8.01" height="19.80" fill="#00FFFF" stroke="#000" stroke-width="1.4"/>
<text transform="translate(951.51,3581.37) scale(1,1.045)" font-size="22">2</text>
<rect x="996.00" y="3563.97" width="230.79" height="19.80" fill="#3366FF" stroke="#000" stroke-width="1.4"/>
<text transform="translate(1229.99,3581.37) scale(1,1.045)" font-size="22">57</text>
<rect x="1397.60" y="3563.97" width="36.05" height="19.80" fill="#6E6E6E" stroke="#000" stroke-width="1.4"/>
<text transform="translate(1436.85,3581.37) scale(1,1.045)" font-size="22">9</text>
<rect x="1513.00" y="3563.97" width="91.06" height="19.80" fill="#FF9900" stroke="#000" stroke-width="1.4"/>
<text transform="translate(1607.26,3581.37) scale(1,1.045)" font-size="22">23</text>
<rect x="1631.70" y="3563.97" width="37.14" height="19.80" fill="#FFFF66" stroke="#000" stroke-width="1.4"/>
<text transform="translate(1672.04,3581.37) scale(1,1.045)" font-size="22">9</text>
<line x1="20.00" y1="82.00" x2="1869.00" y2="82.00" stroke="#333" stroke-width="2" />
<line x1="20.00" y1="82.00" x2="20.00" y2="3620.00" stroke="#2a2a2a" stroke-width="2" />
<line x1="1869.00" y1="82.00" x2="1869.00" y2="3620.00" stroke="#444" stroke-width="2" />
<line x1="19.00" y1="3620.00" x2="1870.00" y2="3620.00" stroke="#000" stroke-width="2" />
<text x="582.20" y="64.00" font-size="62.3" font-weight="bold" fill="#000">Well 2/11-12S - palynofacies</text>
<text transform="translate(99.30,478.80) rotate(-90)" font-size="56.5">Depth (m)</text>
<text transform="translate(220.30,475.70) rotate(-90)" font-size="56.5">Age</text>
<text transform="translate(338.60,474.30) rotate(-90)" font-size="56.5">Formation</text>
<text transform="translate(513.00,478.70) rotate(-90)" font-size="56.5">Zone</text>
<text transform="translate(784.80,479.50) rotate(-90)" font-size="56.5">Samples</text>
<text transform="translate(974.20,526.70) rotate(-90)" font-size="33.9">Acritarchs</text>
<text transform="translate(1029.00,525.50) rotate(-90)" font-size="33.9">Dinocysts</text>
<text transform="translate(1435.70,523.40) rotate(-90)" font-size="33.9">Unidentified palynomorphs</text>
<text transform="translate(1547.40,527.30) rotate(-90)" font-size="33.9">Bisaccate pollen</text>
<text transform="translate(1665.20,527.30) rotate(-90)" font-size="33.9">Non-saccate pollen</text>
<text transform="translate(1785.20,526.10) rotate(-90)" font-size="33.9">Spores</text>
<text transform="translate(1825.50,527.30) rotate(-90)" font-size="33.9">Freshwater algae</text>
<text transform="translate(1865.70,526.10) rotate(-90)" font-size="33.9">Other marine algae</text>
<text transform="translate(217.80,843.30) rotate(-90)" font-size="56.5">Serravallian</text>
<text transform="translate(217.60,1787.70) rotate(-90)" font-size="56.5">Langhian</text>
<text transform="translate(217.60,3223.50) rotate(-90)" font-size="56.5">Burdigalian</text>
<text x="205.50" y="3611.10" font-size="16.9" fill="#000">1674.0</text>
<text transform="translate(336.70,766.20) rotate(-90)" font-size="56.5">Ørnhøj</text>
<text transform="translate(342.80,975.40) rotate(-90)" font-size="56.5">Hod.</text>
<text transform="translate(343.00,1720.50) rotate(-90)" font-size="56.5">Nora</text>
<text transform="translate(343.00,3166.80) rotate(-90)" font-size="56.5">Dany</text>
<text x="457.10" y="585.00" font-size="57.4"  fill="#000">G.v.</text>
<text x="459.30" y="701.60" font-size="57.4"  fill="#000">A.a.</text>
<text transform="translate(488.60,1221.90) rotate(-90)" font-size="43.05">Unipontodinium</text>
<text transform="translate(538.60,1203.10) rotate(-90)" font-size="43.05">aquaeductum</text>
<text transform="translate(513.20,2274.30) rotate(-90)" font-size="43.05">Labyrinthodinium truncatum</text>
<text transform="translate(513.60,3102.30) rotate(-90)" font-size="43.05">Cousteaudinium aubryae</text>
<text x="437.00" y="3302.90" font-size="28.2"  fill="#000">E. insigne</text>
<text x="383.70" y="3446.10" font-size="28.2"  fill="#000">Cordosphaeridium</text>
<text x="422.80" y="3478.40" font-size="28.2"  fill="#000">cantharellus</text>
<text x="411.80" y="3596.10" font-size="28.2"  fill="#000">S. hamulatum</text>
</svg>
</body></html>
